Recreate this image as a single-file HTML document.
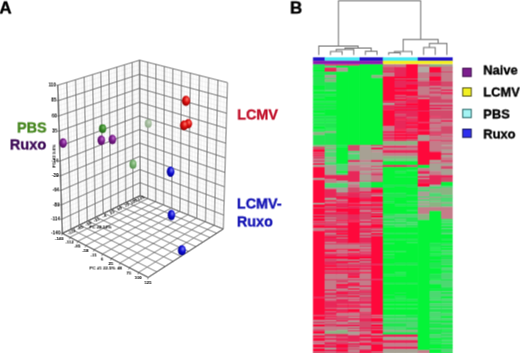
<!DOCTYPE html>
<html><head><meta charset="utf-8"><style>
html,body{margin:0;padding:0;background:#fff;}
body{width:520px;height:353px;overflow:hidden;position:relative;font-family:"Liberation Sans",sans-serif;}
svg{position:absolute;left:0;top:0;will-change:transform;}
</style></head><body>
<svg width="520" height="353" viewBox="0.45 0.45 520 353" font-family="Liberation Sans, sans-serif"><defs><radialGradient id="g_purple" cx="0.62" cy="0.38" r="0.7" fx="0.62" fy="0.35"><stop offset="0" stop-color="#c070d0"/><stop offset="0.45" stop-color="#7a1f8a"/><stop offset="1" stop-color="#4a0a5a"/></radialGradient><radialGradient id="g_green" cx="0.62" cy="0.38" r="0.7" fx="0.62" fy="0.35"><stop offset="0" stop-color="#80c070"/><stop offset="0.45" stop-color="#3a8a2a"/><stop offset="1" stop-color="#1f5a15"/></radialGradient><radialGradient id="g_green2" cx="0.62" cy="0.38" r="0.7" fx="0.62" fy="0.35"><stop offset="0" stop-color="#b0d8a8"/><stop offset="0.45" stop-color="#78b070"/><stop offset="1" stop-color="#508a48"/></radialGradient><radialGradient id="g_pale" cx="0.62" cy="0.38" r="0.7" fx="0.62" fy="0.35"><stop offset="0" stop-color="#cfdccb"/><stop offset="0.45" stop-color="#a6bea0"/><stop offset="1" stop-color="#8ca486"/></radialGradient><radialGradient id="g_red" cx="0.62" cy="0.38" r="0.7" fx="0.62" fy="0.35"><stop offset="0" stop-color="#ff7a6a"/><stop offset="0.45" stop-color="#dc1010"/><stop offset="1" stop-color="#820000"/></radialGradient><radialGradient id="g_blue" cx="0.62" cy="0.38" r="0.7" fx="0.62" fy="0.35"><stop offset="0" stop-color="#8080ff"/><stop offset="0.45" stop-color="#1010d0"/><stop offset="1" stop-color="#000080"/></radialGradient><g id="c"><rect x="-2" y="-2" width="524" height="357" fill="#fff"/><path d="M60.81 84.28L65.15 232.01M63.80 83.37L67.99 230.64M69.72 81.56L73.60 227.92M72.64 80.66L76.38 226.57M78.43 78.89L81.88 223.90M81.30 78.02L84.60 222.58M86.97 76.29L89.99 219.96M89.77 75.43L92.66 218.67M95.32 73.73L97.95 216.10M98.07 72.89L100.56 214.83M103.51 71.23L105.74 212.32M106.20 70.41L108.31 211.08M111.53 68.78L113.39 208.61M114.17 67.97L115.90 207.39M119.39 66.38L120.89 204.97M121.98 65.59L123.36 203.77M127.10 64.02L128.24 201.40M129.63 63.25L130.67 200.23M134.65 61.71L135.46 197.90M137.13 60.95L137.84 196.75M57.96 90.37L139.62 64.91M58.11 95.53L139.64 69.60M58.43 105.80L139.68 78.94M58.58 110.91L139.70 83.60M58.89 121.07L139.74 92.86M59.04 126.13L139.77 97.47M59.35 136.20L139.81 106.65M59.50 141.20L139.83 111.22M59.80 151.17L139.87 120.32M59.95 156.14L139.89 124.85M60.25 166.01L139.93 133.88M60.40 170.92L139.95 138.37M60.70 180.70L139.99 147.31M60.85 185.57L140.01 151.76M61.14 195.26L140.05 160.63M61.29 200.08L140.06 165.05M61.58 209.67L140.10 173.84M61.72 214.45L140.12 178.22M62.01 223.95L140.16 186.93M62.16 228.68L140.18 191.27" stroke="#e8e8e8" stroke-width="0.55" fill="none"/><path d="M57.80 85.20L62.30 233.40M66.77 82.46L70.81 229.27M75.55 79.78L79.14 225.23M84.14 77.15L87.31 221.27M92.56 74.58L95.31 217.38M100.80 72.06L103.16 213.57M108.88 69.59L110.86 209.84M116.79 67.17L118.40 206.18M124.54 64.80L125.81 202.58M132.15 62.48L133.07 199.06M139.60 60.20L140.20 195.60M57.80 85.20L139.60 60.20M58.27 100.67L139.66 74.28M58.74 116.00L139.72 88.23M59.20 131.17L139.79 102.07M59.65 146.20L139.85 115.78M60.10 161.08L139.91 129.37M60.55 175.82L139.97 142.85M60.99 190.42L140.03 156.20M61.43 204.88L140.08 169.45M61.87 219.21L140.14 182.58M62.30 233.40L140.20 195.60" stroke="#6a6a6a" stroke-width="0.9" fill="none"/><path d="M142.28 60.88L142.75 196.62M144.98 61.57L145.31 197.65M150.42 62.96L150.48 199.73M153.17 63.66L153.08 200.78M158.71 65.07L158.33 202.89M161.50 65.78L160.98 203.95M167.14 67.22L166.33 206.10M169.99 67.94L169.02 207.18M175.73 69.41L174.46 209.37M178.63 70.15L177.20 210.47M184.48 71.64L182.73 212.69M187.43 72.39L185.52 213.81M193.38 73.91L191.14 216.07M196.39 74.67L193.98 217.22M202.46 76.22L199.71 219.52M205.52 77.00L202.59 220.68M211.70 78.57L208.42 223.02M214.82 79.37L211.36 224.20M221.12 80.97L217.30 226.59M224.30 81.78L220.29 227.79M139.62 64.95L227.35 87.76M139.64 69.67L227.20 92.89M139.68 79.08L226.91 103.10M139.70 83.76L226.77 108.18M139.75 93.07L226.48 118.27M139.77 97.70L226.33 123.29M139.81 106.91L226.05 133.27M139.83 111.49L225.90 138.23M139.87 120.61L225.62 148.09M139.89 125.14L225.48 152.99M139.93 134.16L225.20 162.75M139.95 138.65L225.06 167.59M139.99 147.58L224.79 177.24M140.01 152.02L224.65 182.03M140.05 160.85L224.37 191.56M140.07 165.25L224.24 196.31M140.10 173.99L223.97 205.73M140.12 178.34L223.83 210.42M140.16 187.00L223.57 219.74M140.18 191.31L223.43 224.38" stroke="#e8e8e8" stroke-width="0.55" fill="none"/><path d="M139.60 60.20L140.20 195.60M147.69 62.26L147.88 198.69M155.93 64.36L155.70 201.83M164.32 66.50L163.65 205.02M172.85 68.67L171.73 208.27M181.54 70.89L179.95 211.58M190.40 73.14L188.32 214.94M199.41 75.44L196.83 218.36M208.60 77.78L205.50 221.85M217.96 80.17L214.32 225.39M227.50 82.60L223.30 229.00M139.60 60.20L227.50 82.60M139.66 74.39L227.06 98.01M139.73 88.42L226.62 113.23M139.79 102.31L226.19 128.29M139.85 116.06L225.76 143.17M139.91 129.66L225.34 157.88M139.97 143.12L224.92 172.42M140.03 156.44L224.51 186.81M140.08 169.63L224.10 201.03M140.14 182.68L223.70 215.09M140.20 195.60L223.30 229.00" stroke="#6a6a6a" stroke-width="0.9" fill="none"/><path d="M140.20 195.60L62.30 233.40M147.71 198.62L69.95 237.32M155.39 201.70L77.78 241.33M163.23 204.86L85.81 245.44M171.24 208.08L94.05 249.66M179.44 211.37L102.49 253.99M187.81 214.74L111.16 258.43M196.38 218.18L120.05 262.98M205.15 221.70L129.19 267.66M214.12 225.31L138.56 272.46M223.30 229.00L148.20 277.40M140.20 195.60L223.30 229.00M133.30 198.95L216.75 233.22M126.22 202.39L210.01 237.57M118.95 205.91L203.07 242.04M111.50 209.53L195.92 246.64M103.84 213.24L188.57 251.38M95.98 217.06L180.99 256.27M87.91 220.97L173.17 261.31M79.61 225.00L165.11 266.50M71.08 229.14L156.79 271.86M62.30 233.40L148.20 277.40" stroke="#6c6c6c" stroke-width="0.85" fill="none"/><path d="M57.80 85.20L62.30 233.40" stroke="#555" stroke-width="1"/><path d="M62.30 233.40L148.20 277.40" stroke="#555" stroke-width="1"/><path d="M148.20 277.40L223.30 229.00" stroke="#555" stroke-width="1"/><path d="M62.30 233.40L140.20 195.60" stroke="#555" stroke-width="1"/><ellipse cx="63.1" cy="143.1" rx="3.8" ry="4.8" fill="url(#g_purple)"/><ellipse cx="101.3" cy="140.3" rx="3.8" ry="4.8" fill="url(#g_purple)"/><ellipse cx="112.4" cy="139.5" rx="3.8" ry="4.8" fill="url(#g_purple)"/><ellipse cx="102.6" cy="128.7" rx="3.6" ry="4.4" fill="url(#g_green)"/><ellipse cx="148.3" cy="123.5" rx="3.5" ry="4.3" fill="url(#g_pale)"/><ellipse cx="133.0" cy="164.2" rx="3.5" ry="4.6" fill="url(#g_green2)"/><ellipse cx="186.0" cy="100.9" rx="4.1" ry="5.1" fill="url(#g_red)"/><ellipse cx="188.3" cy="123.7" rx="3.8" ry="4.7" fill="url(#g_red)"/><ellipse cx="184.0" cy="125.4" rx="4.0" ry="4.9" fill="url(#g_red)"/><ellipse cx="170.6" cy="171.7" rx="3.8" ry="5.2" fill="url(#g_blue)"/><ellipse cx="171.4" cy="215.0" rx="3.7" ry="5.2" fill="url(#g_blue)"/><ellipse cx="181.9" cy="250.3" rx="4.0" ry="5.1" fill="url(#g_blue)"/><g font-family="Liberation Sans, sans-serif" font-weight="bold"><text x="56.00" y="86.40" font-size="4.7" text-anchor="end" fill="#000000">110</text><path d="M56.30 85.20H57.80" stroke="#444" stroke-width="0.6"/><text x="56.47" y="101.87" font-size="4.7" text-anchor="end" fill="#000000">85</text><path d="M56.77 100.67H58.27" stroke="#444" stroke-width="0.6"/><text x="56.94" y="117.20" font-size="4.7" text-anchor="end" fill="#000000">60</text><path d="M57.24 116.00H58.74" stroke="#444" stroke-width="0.6"/><text x="57.40" y="132.37" font-size="4.7" text-anchor="end" fill="#000000">35</text><path d="M57.70 131.17H59.20" stroke="#444" stroke-width="0.6"/><text x="58.30" y="162.28" font-size="4.7" text-anchor="end" fill="#000000">-14</text><path d="M58.60 161.08H60.10" stroke="#444" stroke-width="0.6"/><text x="58.75" y="177.02" font-size="4.7" text-anchor="end" fill="#000000">-39</text><path d="M59.05 175.82H60.55" stroke="#444" stroke-width="0.6"/><text x="59.19" y="191.62" font-size="4.7" text-anchor="end" fill="#000000">-64</text><path d="M59.49 190.42H60.99" stroke="#444" stroke-width="0.6"/><text x="59.63" y="206.08" font-size="4.7" text-anchor="end" fill="#000000">-89</text><path d="M59.93 204.88H61.43" stroke="#444" stroke-width="0.6"/><text x="60.07" y="220.41" font-size="4.7" text-anchor="end" fill="#000000">-114</text><path d="M60.37 219.21H61.87" stroke="#444" stroke-width="0.6"/><text x="60.50" y="234.60" font-size="4.7" text-anchor="end" fill="#000000">-140</text><path d="M60.80 233.40H62.30" stroke="#444" stroke-width="0.6"/><text x="55.80" y="156.00" font-size="4.4" text-anchor="middle" fill="#000000" transform="rotate(-90 55.80 156.00)">PC #3 9.6%</text><text x="59.30" y="240.00" font-size="4.3" text-anchor="middle" fill="#000000">-140</text><path d="M62.30 233.40l-0.6 2" stroke="#444" stroke-width="0.6"/><text x="69.55" y="243.92" font-size="4.3" text-anchor="middle" fill="#000000">-112</text><path d="M69.95 237.32l-0.6 2" stroke="#444" stroke-width="0.6"/><text x="77.38" y="247.93" font-size="4.3" text-anchor="middle" fill="#000000">-85</text><path d="M77.78 241.33l-0.6 2" stroke="#444" stroke-width="0.6"/><text x="85.41" y="252.04" font-size="4.3" text-anchor="middle" fill="#000000">-58</text><path d="M85.81 245.44l-0.6 2" stroke="#444" stroke-width="0.6"/><text x="93.65" y="256.26" font-size="4.3" text-anchor="middle" fill="#000000">-31</text><path d="M94.05 249.66l-0.6 2" stroke="#444" stroke-width="0.6"/><text x="102.09" y="260.59" font-size="4.3" text-anchor="middle" fill="#000000">6</text><path d="M102.49 253.99l-0.6 2" stroke="#444" stroke-width="0.6"/><text x="110.76" y="265.03" font-size="4.3" text-anchor="middle" fill="#000000">25</text><path d="M111.16 258.43l-0.6 2" stroke="#444" stroke-width="0.6"/><text x="119.65" y="269.58" font-size="4.3" text-anchor="middle" fill="#000000">48</text><path d="M120.05 262.98l-0.6 2" stroke="#444" stroke-width="0.6"/><text x="128.79" y="274.26" font-size="4.3" text-anchor="middle" fill="#000000">75</text><path d="M129.19 267.66l-0.6 2" stroke="#444" stroke-width="0.6"/><text x="138.16" y="279.06" font-size="4.3" text-anchor="middle" fill="#000000">100</text><path d="M138.56 272.46l-0.6 2" stroke="#444" stroke-width="0.6"/><text x="147.80" y="284.00" font-size="4.3" text-anchor="middle" fill="#000000">125</text><path d="M148.20 277.40l-0.6 2" stroke="#444" stroke-width="0.6"/><text x="102.50" y="269.60" font-size="4.4" text-anchor="middle" fill="#000000">PC #1 22.5%</text><text x="72.28" y="233.04" font-size="4.3" text-anchor="middle" fill="#000000" transform="rotate(-25.884399866876482 72.28 233.04)">-112</text><text x="80.81" y="228.90" font-size="4.3" text-anchor="middle" fill="#000000" transform="rotate(-25.884399866876482 80.81 228.90)">-85</text><text x="89.11" y="224.87" font-size="4.3" text-anchor="middle" fill="#000000" transform="rotate(-25.884399866876482 89.11 224.87)">-58</text><text x="97.18" y="220.96" font-size="4.3" text-anchor="middle" fill="#000000" transform="rotate(-25.884399866876482 97.18 220.96)">-31</text><text x="105.04" y="217.14" font-size="4.3" text-anchor="middle" fill="#000000" transform="rotate(-25.884399866876482 105.04 217.14)">-4</text><text x="112.70" y="213.43" font-size="4.3" text-anchor="middle" fill="#000000" transform="rotate(-25.884399866876482 112.70 213.43)">23</text><text x="120.15" y="209.81" font-size="4.3" text-anchor="middle" fill="#000000" transform="rotate(-25.884399866876482 120.15 209.81)">50</text><text x="127.42" y="206.29" font-size="4.3" text-anchor="middle" fill="#000000" transform="rotate(-25.884399866876482 127.42 206.29)">75</text><text x="134.50" y="202.85" font-size="4.3" text-anchor="middle" fill="#000000" transform="rotate(-25.884399866876482 134.50 202.85)">100</text><text x="141.40" y="199.50" font-size="4.3" text-anchor="middle" fill="#000000" transform="rotate(-25.884399866876482 141.40 199.50)">125</text><text x="100.50" y="228.30" font-size="4.4" text-anchor="middle" fill="#000000">PC #2 12%</text></g><rect x="313.00" y="64.00" width="12.24" height="3.80" fill="#22e652"/><rect x="313.00" y="67.50" width="12.24" height="1.30" fill="#06f43a"/><rect x="313.00" y="68.50" width="12.24" height="1.30" fill="#22e652"/><rect x="313.00" y="69.50" width="12.24" height="2.30" fill="#06f43a"/><rect x="313.00" y="71.50" width="12.24" height="4.30" fill="#22e652"/><rect x="313.00" y="75.50" width="12.24" height="1.30" fill="#06f43a"/><rect x="313.00" y="76.50" width="12.24" height="9.30" fill="#22e652"/><rect x="313.00" y="85.50" width="12.24" height="4.80" fill="#06f43a"/><rect x="313.00" y="90.00" width="12.24" height="1.30" fill="#22e652"/><rect x="313.00" y="91.00" width="12.24" height="3.30" fill="#06f43a"/><rect x="313.00" y="94.00" width="12.24" height="4.30" fill="#22e652"/><rect x="313.00" y="98.00" width="12.24" height="3.30" fill="#06f43a"/><rect x="313.00" y="101.00" width="12.24" height="2.30" fill="#22e652"/><rect x="313.00" y="103.00" width="12.24" height="1.80" fill="#06f43a"/><rect x="313.00" y="104.50" width="12.24" height="2.30" fill="#22e652"/><rect x="313.00" y="106.50" width="12.24" height="1.30" fill="#06f43a"/><rect x="313.00" y="107.50" width="12.24" height="3.30" fill="#22e652"/><rect x="313.00" y="110.50" width="12.24" height="2.80" fill="#06f43a"/><rect x="313.00" y="113.00" width="12.24" height="1.30" fill="#22e652"/><rect x="313.00" y="114.00" width="12.24" height="2.30" fill="#06f43a"/><rect x="313.00" y="116.00" width="12.24" height="3.30" fill="#22e652"/><rect x="313.00" y="119.00" width="12.24" height="1.30" fill="#06f43a"/><rect x="313.00" y="120.00" width="12.24" height="2.30" fill="#22e652"/><rect x="313.00" y="122.00" width="12.24" height="1.30" fill="#06f43a"/><rect x="313.00" y="123.00" width="12.24" height="3.30" fill="#22e652"/><rect x="313.00" y="126.00" width="12.24" height="3.30" fill="#06f43a"/><rect x="313.00" y="129.00" width="12.24" height="1.30" fill="#22e652"/><rect x="313.00" y="130.00" width="12.24" height="1.30" fill="#06f43a"/><rect x="313.00" y="131.00" width="12.24" height="1.30" fill="#22e652"/><rect x="313.00" y="132.00" width="12.24" height="3.30" fill="#8cb484"/><rect x="313.00" y="135.00" width="12.24" height="10.30" fill="#22e652"/><rect x="313.00" y="145.00" width="12.24" height="2.30" fill="#8cb484"/><rect x="313.00" y="147.00" width="12.24" height="0.80" fill="#fe0a3c"/><rect x="313.00" y="147.50" width="12.24" height="2.30" fill="#d44a6c"/><rect x="313.00" y="149.50" width="12.24" height="2.80" fill="#fe0a3c"/><rect x="313.00" y="152.00" width="12.24" height="1.30" fill="#d44a6c"/><rect x="313.00" y="153.00" width="12.24" height="1.30" fill="#fe0a3c"/><rect x="313.00" y="154.00" width="12.24" height="1.30" fill="#d44a6c"/><rect x="313.00" y="155.00" width="12.24" height="1.30" fill="#fe0a3c"/><rect x="313.00" y="156.00" width="12.24" height="3.30" fill="#d44a6c"/><rect x="313.00" y="159.00" width="12.24" height="1.30" fill="#c47c8a"/><rect x="313.00" y="160.00" width="12.24" height="2.30" fill="#d44a6c"/><rect x="313.00" y="162.00" width="12.24" height="1.80" fill="#c47c8a"/><rect x="313.00" y="163.50" width="12.24" height="1.30" fill="#fe0a3c"/><rect x="313.00" y="164.50" width="12.24" height="0.80" fill="#d44a6c"/><rect x="313.00" y="165.00" width="12.24" height="2.30" fill="#a8a294"/><rect x="313.00" y="167.00" width="12.24" height="11.30" fill="#fe0a3c"/><rect x="313.00" y="178.00" width="12.24" height="2.30" fill="#a8a294"/><rect x="313.00" y="180.00" width="12.24" height="23.30" fill="#fe0a3c"/><rect x="313.00" y="203.00" width="12.24" height="1.80" fill="#a8a294"/><rect x="313.00" y="204.50" width="12.24" height="3.30" fill="#fe0a3c"/><rect x="313.00" y="207.50" width="12.24" height="1.30" fill="#d44a6c"/><rect x="313.00" y="208.50" width="12.24" height="6.30" fill="#fe0a3c"/><rect x="313.00" y="214.50" width="12.24" height="1.30" fill="#d44a6c"/><rect x="313.00" y="215.50" width="12.24" height="2.30" fill="#fe0a3c"/><rect x="313.00" y="217.50" width="12.24" height="1.30" fill="#d44a6c"/><rect x="313.00" y="218.50" width="12.24" height="2.80" fill="#fe0a3c"/><rect x="313.00" y="221.00" width="12.24" height="1.30" fill="#d44a6c"/><rect x="313.00" y="222.00" width="12.24" height="1.30" fill="#fe0a3c"/><rect x="313.00" y="223.00" width="12.24" height="2.30" fill="#d44a6c"/><rect x="313.00" y="225.00" width="12.24" height="3.30" fill="#fe0a3c"/><rect x="313.00" y="228.00" width="12.24" height="3.30" fill="#c47c8a"/><rect x="313.00" y="231.00" width="12.24" height="65.80" fill="#fe0a3c"/><rect x="313.00" y="296.50" width="12.24" height="1.80" fill="#e8285a"/><rect x="313.00" y="298.00" width="12.24" height="17.30" fill="#fe0a3c"/><rect x="313.00" y="315.00" width="12.24" height="1.30" fill="#d44a6c"/><rect x="313.00" y="316.00" width="12.24" height="4.30" fill="#fe0a3c"/><rect x="313.00" y="320.00" width="12.24" height="1.80" fill="#c47c8a"/><rect x="313.00" y="321.50" width="12.24" height="2.30" fill="#d44a6c"/><rect x="313.00" y="323.50" width="12.24" height="1.30" fill="#c47c8a"/><rect x="313.00" y="324.50" width="12.24" height="2.30" fill="#fe0a3c"/><rect x="313.00" y="326.50" width="12.24" height="2.80" fill="#c47c8a"/><rect x="313.00" y="329.00" width="12.24" height="2.30" fill="#d44a6c"/><rect x="313.00" y="331.00" width="12.24" height="2.80" fill="#fe0a3c"/><rect x="313.00" y="333.50" width="12.24" height="2.30" fill="#c47c8a"/><rect x="313.00" y="335.50" width="12.24" height="1.80" fill="#fe0a3c"/><rect x="313.00" y="337.00" width="12.24" height="1.30" fill="#d44a6c"/><rect x="313.00" y="338.00" width="12.24" height="3.30" fill="#fe0a3c"/><rect x="313.00" y="341.00" width="12.24" height="1.30" fill="#c47c8a"/><rect x="313.00" y="342.00" width="12.24" height="1.30" fill="#d44a6c"/><rect x="313.00" y="343.00" width="12.24" height="1.80" fill="#c47c8a"/><rect x="313.00" y="344.50" width="12.24" height="3.30" fill="#fe0a3c"/><rect x="313.00" y="347.50" width="12.24" height="1.30" fill="#c47c8a"/><rect x="313.00" y="348.50" width="12.24" height="3.30" fill="#fe0a3c"/><rect x="313.00" y="351.50" width="12.24" height="1.30" fill="#c47c8a"/><rect x="313.00" y="352.50" width="12.24" height="0.80" fill="#fe0a3c"/><rect x="324.64" y="64.00" width="12.24" height="2.00" fill="#d44a6c"/><rect x="324.64" y="65.70" width="12.24" height="2.30" fill="#4cd872"/><rect x="324.64" y="67.70" width="12.24" height="4.30" fill="#e8285a"/><rect x="324.64" y="71.70" width="12.24" height="3.60" fill="#22e652"/><rect x="324.64" y="75.00" width="12.24" height="3.30" fill="#a8a294"/><rect x="324.64" y="78.00" width="12.24" height="1.30" fill="#22e652"/><rect x="324.64" y="79.00" width="12.24" height="3.30" fill="#8cb484"/><rect x="324.64" y="82.00" width="12.24" height="8.30" fill="#22e652"/><rect x="324.64" y="90.00" width="12.24" height="1.80" fill="#4cd872"/><rect x="324.64" y="91.50" width="12.24" height="2.80" fill="#06f43a"/><rect x="324.64" y="94.00" width="12.24" height="2.30" fill="#22e652"/><rect x="324.64" y="96.00" width="12.24" height="5.30" fill="#06f43a"/><rect x="324.64" y="101.00" width="12.24" height="2.30" fill="#22e652"/><rect x="324.64" y="103.00" width="12.24" height="1.80" fill="#06f43a"/><rect x="324.64" y="104.50" width="12.24" height="2.30" fill="#22e652"/><rect x="324.64" y="106.50" width="12.24" height="1.30" fill="#06f43a"/><rect x="324.64" y="107.50" width="12.24" height="2.30" fill="#22e652"/><rect x="324.64" y="109.50" width="12.24" height="6.80" fill="#06f43a"/><rect x="324.64" y="116.00" width="12.24" height="3.30" fill="#22e652"/><rect x="324.64" y="119.00" width="12.24" height="1.30" fill="#06f43a"/><rect x="324.64" y="120.00" width="12.24" height="2.30" fill="#22e652"/><rect x="324.64" y="122.00" width="12.24" height="1.30" fill="#06f43a"/><rect x="324.64" y="123.00" width="12.24" height="5.30" fill="#22e652"/><rect x="324.64" y="128.00" width="12.24" height="1.30" fill="#06f43a"/><rect x="324.64" y="129.00" width="12.24" height="1.30" fill="#22e652"/><rect x="324.64" y="130.00" width="12.24" height="1.30" fill="#06f43a"/><rect x="324.64" y="131.00" width="12.24" height="2.30" fill="#8cb484"/><rect x="324.64" y="133.00" width="12.24" height="12.30" fill="#22e652"/><rect x="324.64" y="145.00" width="12.24" height="2.30" fill="#8cb484"/><rect x="324.64" y="147.00" width="12.24" height="0.80" fill="#4cd872"/><rect x="324.64" y="147.50" width="12.24" height="2.30" fill="#8cb484"/><rect x="324.64" y="149.50" width="12.24" height="1.80" fill="#4cd872"/><rect x="324.64" y="151.00" width="12.24" height="1.30" fill="#8cb484"/><rect x="324.64" y="152.00" width="12.24" height="5.30" fill="#4cd872"/><rect x="324.64" y="157.00" width="12.24" height="2.30" fill="#8cb484"/><rect x="324.64" y="159.00" width="12.24" height="1.30" fill="#4cd872"/><rect x="324.64" y="160.00" width="12.24" height="2.30" fill="#8cb484"/><rect x="324.64" y="162.00" width="12.24" height="3.30" fill="#4cd872"/><rect x="324.64" y="165.00" width="12.24" height="10.30" fill="#a8a294"/><rect x="324.64" y="175.00" width="12.24" height="4.30" fill="#e8285a"/><rect x="324.64" y="179.00" width="12.24" height="4.30" fill="#c47c8a"/><rect x="324.64" y="183.00" width="12.24" height="4.80" fill="#4cd872"/><rect x="324.64" y="187.50" width="12.24" height="1.80" fill="#a8a294"/><rect x="324.64" y="189.00" width="12.24" height="9.30" fill="#e8285a"/><rect x="324.64" y="198.00" width="12.24" height="2.30" fill="#a8a294"/><rect x="324.64" y="200.00" width="12.24" height="1.30" fill="#fe0a3c"/><rect x="324.64" y="201.00" width="12.24" height="1.30" fill="#e8285a"/><rect x="324.64" y="202.00" width="12.24" height="1.30" fill="#c47c8a"/><rect x="324.64" y="203.00" width="12.24" height="1.30" fill="#d44a6c"/><rect x="324.64" y="204.00" width="12.24" height="2.30" fill="#fe0a3c"/><rect x="324.64" y="206.00" width="12.24" height="2.80" fill="#d44a6c"/><rect x="324.64" y="208.50" width="12.24" height="1.80" fill="#e8285a"/><rect x="324.64" y="210.00" width="12.24" height="1.30" fill="#fe0a3c"/><rect x="324.64" y="211.00" width="12.24" height="1.30" fill="#c47c8a"/><rect x="324.64" y="212.00" width="12.24" height="2.80" fill="#e8285a"/><rect x="324.64" y="214.50" width="12.24" height="3.30" fill="#d44a6c"/><rect x="324.64" y="217.50" width="12.24" height="1.30" fill="#c47c8a"/><rect x="324.64" y="218.50" width="12.24" height="1.80" fill="#d44a6c"/><rect x="324.64" y="220.00" width="12.24" height="1.30" fill="#c47c8a"/><rect x="324.64" y="221.00" width="12.24" height="1.30" fill="#d44a6c"/><rect x="324.64" y="222.00" width="12.24" height="1.30" fill="#e8285a"/><rect x="324.64" y="223.00" width="12.24" height="2.30" fill="#d44a6c"/><rect x="324.64" y="225.00" width="12.24" height="1.80" fill="#e8285a"/><rect x="324.64" y="226.50" width="12.24" height="1.80" fill="#fe0a3c"/><rect x="324.64" y="228.00" width="12.24" height="1.80" fill="#c47c8a"/><rect x="324.64" y="229.50" width="12.24" height="1.30" fill="#d44a6c"/><rect x="324.64" y="230.50" width="12.24" height="2.80" fill="#e8285a"/><rect x="324.64" y="233.00" width="12.24" height="1.80" fill="#c47c8a"/><rect x="324.64" y="234.50" width="12.24" height="2.30" fill="#d44a6c"/><rect x="324.64" y="236.50" width="12.24" height="1.30" fill="#fe0a3c"/><rect x="324.64" y="237.50" width="12.24" height="4.80" fill="#e8285a"/><rect x="324.64" y="242.00" width="12.24" height="1.30" fill="#c47c8a"/><rect x="324.64" y="243.00" width="12.24" height="1.80" fill="#d44a6c"/><rect x="324.64" y="244.50" width="12.24" height="4.80" fill="#c47c8a"/><rect x="324.64" y="249.00" width="12.24" height="1.30" fill="#e8285a"/><rect x="324.64" y="250.00" width="12.24" height="2.30" fill="#fe0a3c"/><rect x="324.64" y="252.00" width="12.24" height="1.30" fill="#c47c8a"/><rect x="324.64" y="253.00" width="12.24" height="1.30" fill="#d44a6c"/><rect x="324.64" y="254.00" width="12.24" height="2.80" fill="#e8285a"/><rect x="324.64" y="256.50" width="12.24" height="2.30" fill="#fe0a3c"/><rect x="324.64" y="258.50" width="12.24" height="3.30" fill="#d44a6c"/><rect x="324.64" y="261.50" width="12.24" height="3.80" fill="#e8285a"/><rect x="324.64" y="265.00" width="12.24" height="2.30" fill="#fe0a3c"/><rect x="324.64" y="267.00" width="12.24" height="1.30" fill="#d44a6c"/><rect x="324.64" y="268.00" width="12.24" height="2.30" fill="#fe0a3c"/><rect x="324.64" y="270.00" width="12.24" height="2.30" fill="#d44a6c"/><rect x="324.64" y="272.00" width="12.24" height="2.30" fill="#e8285a"/><rect x="324.64" y="274.00" width="12.24" height="5.30" fill="#c47c8a"/><rect x="324.64" y="279.00" width="12.24" height="1.80" fill="#d44a6c"/><rect x="324.64" y="280.50" width="12.24" height="9.30" fill="#c47c8a"/><rect x="324.64" y="289.50" width="12.24" height="1.80" fill="#e8285a"/><rect x="324.64" y="291.00" width="12.24" height="1.80" fill="#c47c8a"/><rect x="324.64" y="292.50" width="12.24" height="1.30" fill="#d44a6c"/><rect x="324.64" y="293.50" width="12.24" height="1.30" fill="#e8285a"/><rect x="324.64" y="294.50" width="12.24" height="1.30" fill="#d44a6c"/><rect x="324.64" y="295.50" width="12.24" height="1.30" fill="#c47c8a"/><rect x="324.64" y="296.50" width="12.24" height="2.80" fill="#d44a6c"/><rect x="324.64" y="299.00" width="12.24" height="1.30" fill="#c47c8a"/><rect x="324.64" y="300.00" width="12.24" height="1.30" fill="#d44a6c"/><rect x="324.64" y="301.00" width="12.24" height="7.30" fill="#e8285a"/><rect x="324.64" y="308.00" width="12.24" height="1.30" fill="#d44a6c"/><rect x="324.64" y="309.00" width="12.24" height="2.30" fill="#fe0a3c"/><rect x="324.64" y="311.00" width="12.24" height="1.30" fill="#d44a6c"/><rect x="324.64" y="312.00" width="12.24" height="3.30" fill="#e8285a"/><rect x="324.64" y="315.00" width="12.24" height="1.30" fill="#d44a6c"/><rect x="324.64" y="316.00" width="12.24" height="1.30" fill="#fe0a3c"/><rect x="324.64" y="317.00" width="12.24" height="1.30" fill="#d44a6c"/><rect x="324.64" y="318.00" width="12.24" height="2.30" fill="#e8285a"/><rect x="324.64" y="320.00" width="12.24" height="1.80" fill="#c47c8a"/><rect x="324.64" y="321.50" width="12.24" height="1.30" fill="#d44a6c"/><rect x="324.64" y="322.50" width="12.24" height="1.30" fill="#c47c8a"/><rect x="324.64" y="323.50" width="12.24" height="3.30" fill="#d44a6c"/><rect x="324.64" y="326.50" width="12.24" height="4.80" fill="#c47c8a"/><rect x="324.64" y="331.00" width="12.24" height="3.30" fill="#8cb484"/><rect x="324.64" y="334.00" width="12.24" height="1.80" fill="#e8285a"/><rect x="324.64" y="335.50" width="12.24" height="1.80" fill="#d44a6c"/><rect x="324.64" y="337.00" width="12.24" height="1.30" fill="#c47c8a"/><rect x="324.64" y="338.00" width="12.24" height="2.30" fill="#e8285a"/><rect x="324.64" y="340.00" width="12.24" height="2.30" fill="#c47c8a"/><rect x="324.64" y="342.00" width="12.24" height="2.80" fill="#e8285a"/><rect x="324.64" y="344.50" width="12.24" height="1.30" fill="#d44a6c"/><rect x="324.64" y="345.50" width="12.24" height="2.30" fill="#e8285a"/><rect x="324.64" y="347.50" width="12.24" height="1.30" fill="#c47c8a"/><rect x="324.64" y="348.50" width="12.24" height="1.30" fill="#a8a294"/><rect x="324.64" y="349.50" width="12.24" height="2.30" fill="#e8285a"/><rect x="324.64" y="351.50" width="12.24" height="1.30" fill="#c47c8a"/><rect x="324.64" y="352.50" width="12.24" height="0.80" fill="#e8285a"/><rect x="336.28" y="64.00" width="12.24" height="2.00" fill="#d44a6c"/><rect x="336.28" y="65.70" width="12.24" height="2.30" fill="#06f43a"/><rect x="336.28" y="67.70" width="12.24" height="4.30" fill="#a8a294"/><rect x="336.28" y="71.70" width="12.24" height="73.60" fill="#06f43a"/><rect x="336.28" y="145.00" width="12.24" height="2.30" fill="#22e652"/><rect x="336.28" y="147.00" width="12.24" height="17.30" fill="#06f43a"/><rect x="336.28" y="164.00" width="12.24" height="7.30" fill="#4cd872"/><rect x="336.28" y="171.00" width="12.24" height="2.30" fill="#06f43a"/><rect x="336.28" y="173.00" width="12.24" height="2.30" fill="#4cd872"/><rect x="336.28" y="175.00" width="12.24" height="5.80" fill="#e8285a"/><rect x="336.28" y="180.50" width="12.24" height="2.80" fill="#a8a294"/><rect x="336.28" y="183.00" width="12.24" height="4.80" fill="#4cd872"/><rect x="336.28" y="187.50" width="12.24" height="5.30" fill="#a8a294"/><rect x="336.28" y="192.50" width="12.24" height="0.80" fill="#e8285a"/><rect x="336.28" y="193.00" width="12.24" height="3.80" fill="#d44a6c"/><rect x="336.28" y="196.50" width="12.24" height="1.30" fill="#fe0a3c"/><rect x="336.28" y="197.50" width="12.24" height="2.30" fill="#e8285a"/><rect x="336.28" y="199.50" width="12.24" height="1.80" fill="#c47c8a"/><rect x="336.28" y="201.00" width="12.24" height="1.30" fill="#e8285a"/><rect x="336.28" y="202.00" width="12.24" height="1.30" fill="#d44a6c"/><rect x="336.28" y="203.00" width="12.24" height="4.80" fill="#e8285a"/><rect x="336.28" y="207.50" width="12.24" height="1.30" fill="#d44a6c"/><rect x="336.28" y="208.50" width="12.24" height="3.80" fill="#fe0a3c"/><rect x="336.28" y="212.00" width="12.24" height="2.80" fill="#e8285a"/><rect x="336.28" y="214.50" width="12.24" height="5.80" fill="#d44a6c"/><rect x="336.28" y="220.00" width="12.24" height="1.30" fill="#fe0a3c"/><rect x="336.28" y="221.00" width="12.24" height="1.30" fill="#d44a6c"/><rect x="336.28" y="222.00" width="12.24" height="1.30" fill="#e8285a"/><rect x="336.28" y="223.00" width="12.24" height="1.30" fill="#d44a6c"/><rect x="336.28" y="224.00" width="12.24" height="1.30" fill="#c47c8a"/><rect x="336.28" y="225.00" width="12.24" height="1.80" fill="#e8285a"/><rect x="336.28" y="226.50" width="12.24" height="1.80" fill="#fe0a3c"/><rect x="336.28" y="228.00" width="12.24" height="2.80" fill="#d44a6c"/><rect x="336.28" y="230.50" width="12.24" height="1.30" fill="#fe0a3c"/><rect x="336.28" y="231.50" width="12.24" height="1.80" fill="#e8285a"/><rect x="336.28" y="233.00" width="12.24" height="1.80" fill="#fe0a3c"/><rect x="336.28" y="234.50" width="12.24" height="2.30" fill="#d44a6c"/><rect x="336.28" y="236.50" width="12.24" height="1.30" fill="#fe0a3c"/><rect x="336.28" y="237.50" width="12.24" height="1.30" fill="#c47c8a"/><rect x="336.28" y="238.50" width="12.24" height="4.80" fill="#e8285a"/><rect x="336.28" y="243.00" width="12.24" height="1.80" fill="#d44a6c"/><rect x="336.28" y="244.50" width="12.24" height="4.80" fill="#c47c8a"/><rect x="336.28" y="249.00" width="12.24" height="1.30" fill="#fe0a3c"/><rect x="336.28" y="250.00" width="12.24" height="1.30" fill="#c47c8a"/><rect x="336.28" y="251.00" width="12.24" height="1.30" fill="#d44a6c"/><rect x="336.28" y="252.00" width="12.24" height="1.30" fill="#c47c8a"/><rect x="336.28" y="253.00" width="12.24" height="1.30" fill="#d44a6c"/><rect x="336.28" y="254.00" width="12.24" height="1.30" fill="#e8285a"/><rect x="336.28" y="255.00" width="12.24" height="1.80" fill="#d44a6c"/><rect x="336.28" y="256.50" width="12.24" height="2.30" fill="#fe0a3c"/><rect x="336.28" y="258.50" width="12.24" height="1.30" fill="#d44a6c"/><rect x="336.28" y="259.50" width="12.24" height="1.30" fill="#c47c8a"/><rect x="336.28" y="260.50" width="12.24" height="1.30" fill="#d44a6c"/><rect x="336.28" y="261.50" width="12.24" height="1.30" fill="#fe0a3c"/><rect x="336.28" y="262.50" width="12.24" height="1.30" fill="#e8285a"/><rect x="336.28" y="263.50" width="12.24" height="1.80" fill="#d44a6c"/><rect x="336.28" y="265.00" width="12.24" height="2.30" fill="#e8285a"/><rect x="336.28" y="267.00" width="12.24" height="1.30" fill="#d44a6c"/><rect x="336.28" y="268.00" width="12.24" height="2.30" fill="#fe0a3c"/><rect x="336.28" y="270.00" width="12.24" height="2.30" fill="#d44a6c"/><rect x="336.28" y="272.00" width="12.24" height="2.30" fill="#e8285a"/><rect x="336.28" y="274.00" width="12.24" height="5.30" fill="#c47c8a"/><rect x="336.28" y="279.00" width="12.24" height="3.80" fill="#d44a6c"/><rect x="336.28" y="282.50" width="12.24" height="1.80" fill="#c47c8a"/><rect x="336.28" y="284.00" width="12.24" height="1.80" fill="#fe0a3c"/><rect x="336.28" y="285.50" width="12.24" height="3.30" fill="#e8285a"/><rect x="336.28" y="288.50" width="12.24" height="2.80" fill="#c47c8a"/><rect x="336.28" y="291.00" width="12.24" height="1.80" fill="#e8285a"/><rect x="336.28" y="292.50" width="12.24" height="1.30" fill="#fe0a3c"/><rect x="336.28" y="293.50" width="12.24" height="1.30" fill="#e8285a"/><rect x="336.28" y="294.50" width="12.24" height="1.30" fill="#d44a6c"/><rect x="336.28" y="295.50" width="12.24" height="1.30" fill="#e8285a"/><rect x="336.28" y="296.50" width="12.24" height="1.80" fill="#d44a6c"/><rect x="336.28" y="298.00" width="12.24" height="1.30" fill="#c47c8a"/><rect x="336.28" y="299.00" width="12.24" height="5.30" fill="#e8285a"/><rect x="336.28" y="304.00" width="12.24" height="1.30" fill="#d44a6c"/><rect x="336.28" y="305.00" width="12.24" height="1.30" fill="#fe0a3c"/><rect x="336.28" y="306.00" width="12.24" height="2.30" fill="#e8285a"/><rect x="336.28" y="308.00" width="12.24" height="1.30" fill="#c47c8a"/><rect x="336.28" y="309.00" width="12.24" height="3.30" fill="#e8285a"/><rect x="336.28" y="312.00" width="12.24" height="1.30" fill="#fe0a3c"/><rect x="336.28" y="313.00" width="12.24" height="3.30" fill="#c47c8a"/><rect x="336.28" y="316.00" width="12.24" height="1.30" fill="#e8285a"/><rect x="336.28" y="317.00" width="12.24" height="3.30" fill="#d44a6c"/><rect x="336.28" y="320.00" width="12.24" height="1.80" fill="#e8285a"/><rect x="336.28" y="321.50" width="12.24" height="3.30" fill="#c47c8a"/><rect x="336.28" y="324.50" width="12.24" height="2.30" fill="#e8285a"/><rect x="336.28" y="326.50" width="12.24" height="3.80" fill="#c47c8a"/><rect x="336.28" y="330.00" width="12.24" height="4.30" fill="#8cb484"/><rect x="336.28" y="334.00" width="12.24" height="3.30" fill="#e8285a"/><rect x="336.28" y="337.00" width="12.24" height="1.30" fill="#d44a6c"/><rect x="336.28" y="338.00" width="12.24" height="3.30" fill="#e8285a"/><rect x="336.28" y="341.00" width="12.24" height="2.30" fill="#d44a6c"/><rect x="336.28" y="343.00" width="12.24" height="1.80" fill="#e8285a"/><rect x="336.28" y="344.50" width="12.24" height="3.30" fill="#fe0a3c"/><rect x="336.28" y="347.50" width="12.24" height="2.30" fill="#e8285a"/><rect x="336.28" y="349.50" width="12.24" height="2.30" fill="#fe0a3c"/><rect x="336.28" y="351.50" width="12.24" height="1.30" fill="#d44a6c"/><rect x="336.28" y="352.50" width="12.24" height="0.80" fill="#e8285a"/><rect x="347.93" y="64.00" width="12.24" height="2.00" fill="#d44a6c"/><rect x="347.93" y="65.70" width="12.24" height="79.60" fill="#06f43a"/><rect x="347.93" y="145.00" width="12.24" height="6.30" fill="#d44a6c"/><rect x="347.93" y="151.00" width="12.24" height="2.30" fill="#4cd872"/><rect x="347.93" y="153.00" width="12.24" height="1.30" fill="#a8a294"/><rect x="347.93" y="154.00" width="12.24" height="6.30" fill="#4cd872"/><rect x="347.93" y="160.00" width="12.24" height="2.30" fill="#e8285a"/><rect x="347.93" y="162.00" width="12.24" height="3.30" fill="#a8a294"/><rect x="347.93" y="165.00" width="12.24" height="6.30" fill="#c47c8a"/><rect x="347.93" y="171.00" width="12.24" height="11.30" fill="#e8285a"/><rect x="347.93" y="182.00" width="12.24" height="2.30" fill="#a8a294"/><rect x="347.93" y="184.00" width="12.24" height="3.80" fill="#c47c8a"/><rect x="347.93" y="187.50" width="12.24" height="5.30" fill="#d44a6c"/><rect x="347.93" y="192.50" width="12.24" height="0.80" fill="#fe0a3c"/><rect x="347.93" y="193.00" width="12.24" height="4.80" fill="#e8285a"/><rect x="347.93" y="197.50" width="12.24" height="5.80" fill="#fe0a3c"/><rect x="347.93" y="203.00" width="12.24" height="1.30" fill="#e8285a"/><rect x="347.93" y="204.00" width="12.24" height="2.30" fill="#fe0a3c"/><rect x="347.93" y="206.00" width="12.24" height="2.80" fill="#e8285a"/><rect x="347.93" y="208.50" width="12.24" height="6.30" fill="#fe0a3c"/><rect x="347.93" y="214.50" width="12.24" height="5.80" fill="#e8285a"/><rect x="347.93" y="220.00" width="12.24" height="1.30" fill="#fe0a3c"/><rect x="347.93" y="221.00" width="12.24" height="1.30" fill="#e8285a"/><rect x="347.93" y="222.00" width="12.24" height="21.30" fill="#fe0a3c"/><rect x="347.93" y="243.00" width="12.24" height="1.80" fill="#d44a6c"/><rect x="347.93" y="244.50" width="12.24" height="4.80" fill="#c47c8a"/><rect x="347.93" y="249.00" width="12.24" height="2.30" fill="#fe0a3c"/><rect x="347.93" y="251.00" width="12.24" height="1.30" fill="#d44a6c"/><rect x="347.93" y="252.00" width="12.24" height="1.30" fill="#c47c8a"/><rect x="347.93" y="253.00" width="12.24" height="1.30" fill="#fe0a3c"/><rect x="347.93" y="254.00" width="12.24" height="2.80" fill="#e8285a"/><rect x="347.93" y="256.50" width="12.24" height="3.30" fill="#fe0a3c"/><rect x="347.93" y="259.50" width="12.24" height="1.30" fill="#c47c8a"/><rect x="347.93" y="260.50" width="12.24" height="1.30" fill="#d44a6c"/><rect x="347.93" y="261.50" width="12.24" height="1.30" fill="#fe0a3c"/><rect x="347.93" y="262.50" width="12.24" height="1.30" fill="#c47c8a"/><rect x="347.93" y="263.50" width="12.24" height="1.80" fill="#d44a6c"/><rect x="347.93" y="265.00" width="12.24" height="2.30" fill="#e8285a"/><rect x="347.93" y="267.00" width="12.24" height="1.30" fill="#d44a6c"/><rect x="347.93" y="268.00" width="12.24" height="2.30" fill="#fe0a3c"/><rect x="347.93" y="270.00" width="12.24" height="2.30" fill="#d44a6c"/><rect x="347.93" y="272.00" width="12.24" height="4.30" fill="#e8285a"/><rect x="347.93" y="276.00" width="12.24" height="2.30" fill="#fe0a3c"/><rect x="347.93" y="278.00" width="12.24" height="1.30" fill="#c47c8a"/><rect x="347.93" y="279.00" width="12.24" height="1.80" fill="#d44a6c"/><rect x="347.93" y="280.50" width="12.24" height="2.30" fill="#c47c8a"/><rect x="347.93" y="282.50" width="12.24" height="1.80" fill="#e8285a"/><rect x="347.93" y="284.00" width="12.24" height="1.80" fill="#fe0a3c"/><rect x="347.93" y="285.50" width="12.24" height="1.80" fill="#d44a6c"/><rect x="347.93" y="287.00" width="12.24" height="1.80" fill="#c47c8a"/><rect x="347.93" y="288.50" width="12.24" height="1.30" fill="#fe0a3c"/><rect x="347.93" y="289.50" width="12.24" height="1.80" fill="#c47c8a"/><rect x="347.93" y="291.00" width="12.24" height="1.80" fill="#e8285a"/><rect x="347.93" y="292.50" width="12.24" height="1.30" fill="#d44a6c"/><rect x="347.93" y="293.50" width="12.24" height="1.30" fill="#e8285a"/><rect x="347.93" y="294.50" width="12.24" height="1.30" fill="#c47c8a"/><rect x="347.93" y="295.50" width="12.24" height="1.30" fill="#fe0a3c"/><rect x="347.93" y="296.50" width="12.24" height="1.80" fill="#d44a6c"/><rect x="347.93" y="298.00" width="12.24" height="1.30" fill="#c47c8a"/><rect x="347.93" y="299.00" width="12.24" height="1.30" fill="#e8285a"/><rect x="347.93" y="300.00" width="12.24" height="1.30" fill="#c47c8a"/><rect x="347.93" y="301.00" width="12.24" height="3.30" fill="#e8285a"/><rect x="347.93" y="304.00" width="12.24" height="1.30" fill="#d44a6c"/><rect x="347.93" y="305.00" width="12.24" height="1.30" fill="#fe0a3c"/><rect x="347.93" y="306.00" width="12.24" height="2.30" fill="#e8285a"/><rect x="347.93" y="308.00" width="12.24" height="1.30" fill="#c47c8a"/><rect x="347.93" y="309.00" width="12.24" height="3.30" fill="#fe0a3c"/><rect x="347.93" y="312.00" width="12.24" height="1.30" fill="#e8285a"/><rect x="347.93" y="313.00" width="12.24" height="3.30" fill="#c47c8a"/><rect x="347.93" y="316.00" width="12.24" height="1.30" fill="#e8285a"/><rect x="347.93" y="317.00" width="12.24" height="1.30" fill="#a8a294"/><rect x="347.93" y="318.00" width="12.24" height="2.30" fill="#e8285a"/><rect x="347.93" y="320.00" width="12.24" height="1.80" fill="#c47c8a"/><rect x="347.93" y="321.50" width="12.24" height="1.30" fill="#a8a294"/><rect x="347.93" y="322.50" width="12.24" height="1.30" fill="#e8285a"/><rect x="347.93" y="323.50" width="12.24" height="1.30" fill="#c47c8a"/><rect x="347.93" y="324.50" width="12.24" height="2.30" fill="#e8285a"/><rect x="347.93" y="326.50" width="12.24" height="1.30" fill="#a8a294"/><rect x="347.93" y="327.50" width="12.24" height="1.80" fill="#d44a6c"/><rect x="347.93" y="329.00" width="12.24" height="1.30" fill="#a8a294"/><rect x="347.93" y="330.00" width="12.24" height="1.30" fill="#d44a6c"/><rect x="347.93" y="331.00" width="12.24" height="0.80" fill="#e8285a"/><rect x="347.93" y="331.50" width="12.24" height="2.80" fill="#a8a294"/><rect x="347.93" y="334.00" width="12.24" height="1.80" fill="#c47c8a"/><rect x="347.93" y="335.50" width="12.24" height="6.80" fill="#e8285a"/><rect x="347.93" y="342.00" width="12.24" height="1.30" fill="#a8a294"/><rect x="347.93" y="343.00" width="12.24" height="1.80" fill="#e8285a"/><rect x="347.93" y="344.50" width="12.24" height="3.30" fill="#d44a6c"/><rect x="347.93" y="347.50" width="12.24" height="1.30" fill="#c47c8a"/><rect x="347.93" y="348.50" width="12.24" height="1.30" fill="#d44a6c"/><rect x="347.93" y="349.50" width="12.24" height="3.30" fill="#c47c8a"/><rect x="347.93" y="352.50" width="12.24" height="0.80" fill="#d44a6c"/><rect x="359.57" y="64.00" width="12.24" height="81.30" fill="#06f43a"/><rect x="359.57" y="145.00" width="12.24" height="1.30" fill="#c47c8a"/><rect x="359.57" y="146.00" width="12.24" height="14.30" fill="#a8a294"/><rect x="359.57" y="160.00" width="12.24" height="2.30" fill="#c47c8a"/><rect x="359.57" y="162.00" width="12.24" height="3.30" fill="#a8a294"/><rect x="359.57" y="165.00" width="12.24" height="1.30" fill="#c47c8a"/><rect x="359.57" y="166.00" width="12.24" height="1.30" fill="#a8a294"/><rect x="359.57" y="167.00" width="12.24" height="4.30" fill="#c47c8a"/><rect x="359.57" y="171.00" width="12.24" height="2.30" fill="#a8a294"/><rect x="359.57" y="173.00" width="12.24" height="1.80" fill="#c47c8a"/><rect x="359.57" y="174.50" width="12.24" height="6.30" fill="#a8a294"/><rect x="359.57" y="180.50" width="12.24" height="1.30" fill="#c47c8a"/><rect x="359.57" y="181.50" width="12.24" height="0.80" fill="#a8a294"/><rect x="359.57" y="182.00" width="12.24" height="5.80" fill="#4cd872"/><rect x="359.57" y="187.50" width="12.24" height="4.30" fill="#c47c8a"/><rect x="359.57" y="191.50" width="12.24" height="1.80" fill="#e8285a"/><rect x="359.57" y="193.00" width="12.24" height="4.80" fill="#d44a6c"/><rect x="359.57" y="197.50" width="12.24" height="2.30" fill="#e8285a"/><rect x="359.57" y="199.50" width="12.24" height="1.80" fill="#fe0a3c"/><rect x="359.57" y="201.00" width="12.24" height="1.30" fill="#e8285a"/><rect x="359.57" y="202.00" width="12.24" height="1.30" fill="#d44a6c"/><rect x="359.57" y="203.00" width="12.24" height="1.30" fill="#c47c8a"/><rect x="359.57" y="204.00" width="12.24" height="2.30" fill="#fe0a3c"/><rect x="359.57" y="206.00" width="12.24" height="2.80" fill="#d44a6c"/><rect x="359.57" y="208.50" width="12.24" height="1.80" fill="#e8285a"/><rect x="359.57" y="210.00" width="12.24" height="2.30" fill="#c47c8a"/><rect x="359.57" y="212.00" width="12.24" height="1.80" fill="#e8285a"/><rect x="359.57" y="213.50" width="12.24" height="6.80" fill="#d44a6c"/><rect x="359.57" y="220.00" width="12.24" height="1.30" fill="#c47c8a"/><rect x="359.57" y="221.00" width="12.24" height="2.30" fill="#e8285a"/><rect x="359.57" y="223.00" width="12.24" height="2.30" fill="#c47c8a"/><rect x="359.57" y="225.00" width="12.24" height="1.80" fill="#e8285a"/><rect x="359.57" y="226.50" width="12.24" height="1.80" fill="#fe0a3c"/><rect x="359.57" y="228.00" width="12.24" height="2.80" fill="#d44a6c"/><rect x="359.57" y="230.50" width="12.24" height="2.80" fill="#e8285a"/><rect x="359.57" y="233.00" width="12.24" height="1.80" fill="#c47c8a"/><rect x="359.57" y="234.50" width="12.24" height="2.30" fill="#d44a6c"/><rect x="359.57" y="236.50" width="12.24" height="1.30" fill="#c47c8a"/><rect x="359.57" y="237.50" width="12.24" height="5.80" fill="#e8285a"/><rect x="359.57" y="243.00" width="12.24" height="1.80" fill="#d44a6c"/><rect x="359.57" y="244.50" width="12.24" height="1.30" fill="#c47c8a"/><rect x="359.57" y="245.50" width="12.24" height="1.80" fill="#d44a6c"/><rect x="359.57" y="247.00" width="12.24" height="2.30" fill="#c47c8a"/><rect x="359.57" y="249.00" width="12.24" height="1.30" fill="#e8285a"/><rect x="359.57" y="250.00" width="12.24" height="1.30" fill="#c47c8a"/><rect x="359.57" y="251.00" width="12.24" height="1.30" fill="#d44a6c"/><rect x="359.57" y="252.00" width="12.24" height="1.30" fill="#e8285a"/><rect x="359.57" y="253.00" width="12.24" height="1.30" fill="#d44a6c"/><rect x="359.57" y="254.00" width="12.24" height="2.80" fill="#e8285a"/><rect x="359.57" y="256.50" width="12.24" height="2.30" fill="#fe0a3c"/><rect x="359.57" y="258.50" width="12.24" height="1.30" fill="#c47c8a"/><rect x="359.57" y="259.50" width="12.24" height="1.30" fill="#e8285a"/><rect x="359.57" y="260.50" width="12.24" height="1.30" fill="#d44a6c"/><rect x="359.57" y="261.50" width="12.24" height="1.30" fill="#c47c8a"/><rect x="359.57" y="262.50" width="12.24" height="2.80" fill="#d44a6c"/><rect x="359.57" y="265.00" width="12.24" height="2.30" fill="#e8285a"/><rect x="359.57" y="267.00" width="12.24" height="1.30" fill="#d44a6c"/><rect x="359.57" y="268.00" width="12.24" height="2.30" fill="#e8285a"/><rect x="359.57" y="270.00" width="12.24" height="2.30" fill="#c47c8a"/><rect x="359.57" y="272.00" width="12.24" height="1.30" fill="#fe0a3c"/><rect x="359.57" y="273.00" width="12.24" height="1.30" fill="#d44a6c"/><rect x="359.57" y="274.00" width="12.24" height="5.30" fill="#c47c8a"/><rect x="359.57" y="279.00" width="12.24" height="1.80" fill="#d44a6c"/><rect x="359.57" y="280.50" width="12.24" height="5.30" fill="#c47c8a"/><rect x="359.57" y="285.50" width="12.24" height="1.80" fill="#e8285a"/><rect x="359.57" y="287.00" width="12.24" height="2.80" fill="#c47c8a"/><rect x="359.57" y="289.50" width="12.24" height="1.80" fill="#d44a6c"/><rect x="359.57" y="291.00" width="12.24" height="1.80" fill="#e8285a"/><rect x="359.57" y="292.50" width="12.24" height="3.30" fill="#d44a6c"/><rect x="359.57" y="295.50" width="12.24" height="1.30" fill="#c47c8a"/><rect x="359.57" y="296.50" width="12.24" height="2.80" fill="#d44a6c"/><rect x="359.57" y="299.00" width="12.24" height="1.30" fill="#e8285a"/><rect x="359.57" y="300.00" width="12.24" height="1.30" fill="#d44a6c"/><rect x="359.57" y="301.00" width="12.24" height="3.30" fill="#e8285a"/><rect x="359.57" y="304.00" width="12.24" height="1.30" fill="#c47c8a"/><rect x="359.57" y="305.00" width="12.24" height="1.30" fill="#d44a6c"/><rect x="359.57" y="306.00" width="12.24" height="2.30" fill="#e8285a"/><rect x="359.57" y="308.00" width="12.24" height="4.30" fill="#c47c8a"/><rect x="359.57" y="312.00" width="12.24" height="1.30" fill="#e8285a"/><rect x="359.57" y="313.00" width="12.24" height="3.30" fill="#d44a6c"/><rect x="359.57" y="316.00" width="12.24" height="1.30" fill="#e8285a"/><rect x="359.57" y="317.00" width="12.24" height="1.30" fill="#d44a6c"/><rect x="359.57" y="318.00" width="12.24" height="3.80" fill="#e8285a"/><rect x="359.57" y="321.50" width="12.24" height="6.30" fill="#d44a6c"/><rect x="359.57" y="327.50" width="12.24" height="1.80" fill="#e8285a"/><rect x="359.57" y="329.00" width="12.24" height="2.30" fill="#d44a6c"/><rect x="359.57" y="331.00" width="12.24" height="0.80" fill="#e8285a"/><rect x="359.57" y="331.50" width="12.24" height="2.80" fill="#c47c8a"/><rect x="359.57" y="334.00" width="12.24" height="1.80" fill="#e8285a"/><rect x="359.57" y="335.50" width="12.24" height="1.80" fill="#fe0a3c"/><rect x="359.57" y="337.00" width="12.24" height="1.30" fill="#c47c8a"/><rect x="359.57" y="338.00" width="12.24" height="3.30" fill="#e8285a"/><rect x="359.57" y="341.00" width="12.24" height="1.30" fill="#c47c8a"/><rect x="359.57" y="342.00" width="12.24" height="1.30" fill="#d44a6c"/><rect x="359.57" y="343.00" width="12.24" height="1.80" fill="#fe0a3c"/><rect x="359.57" y="344.50" width="12.24" height="1.30" fill="#e8285a"/><rect x="359.57" y="345.50" width="12.24" height="4.30" fill="#c47c8a"/><rect x="359.57" y="349.50" width="12.24" height="2.30" fill="#e8285a"/><rect x="359.57" y="351.50" width="12.24" height="1.30" fill="#fe0a3c"/><rect x="359.57" y="352.50" width="12.24" height="0.80" fill="#e8285a"/><rect x="371.21" y="64.00" width="12.24" height="11.30" fill="#06f43a"/><rect x="371.21" y="75.00" width="12.24" height="3.30" fill="#8cb484"/><rect x="371.21" y="78.00" width="12.24" height="67.30" fill="#06f43a"/><rect x="371.21" y="145.00" width="12.24" height="1.30" fill="#e8285a"/><rect x="371.21" y="146.00" width="12.24" height="1.80" fill="#a8a294"/><rect x="371.21" y="147.50" width="12.24" height="2.30" fill="#e8285a"/><rect x="371.21" y="149.50" width="12.24" height="1.80" fill="#a8a294"/><rect x="371.21" y="151.00" width="12.24" height="1.30" fill="#c47c8a"/><rect x="371.21" y="152.00" width="12.24" height="8.30" fill="#a8a294"/><rect x="371.21" y="160.00" width="12.24" height="2.30" fill="#e8285a"/><rect x="371.21" y="162.00" width="12.24" height="4.30" fill="#a8a294"/><rect x="371.21" y="166.00" width="12.24" height="1.30" fill="#e8285a"/><rect x="371.21" y="167.00" width="12.24" height="2.30" fill="#a8a294"/><rect x="371.21" y="169.00" width="12.24" height="1.30" fill="#e8285a"/><rect x="371.21" y="170.00" width="12.24" height="1.30" fill="#a8a294"/><rect x="371.21" y="171.00" width="12.24" height="2.30" fill="#c47c8a"/><rect x="371.21" y="173.00" width="12.24" height="2.80" fill="#d44a6c"/><rect x="371.21" y="175.50" width="12.24" height="6.30" fill="#c47c8a"/><rect x="371.21" y="181.50" width="12.24" height="0.80" fill="#d44a6c"/><rect x="371.21" y="182.00" width="12.24" height="5.80" fill="#06f43a"/><rect x="371.21" y="187.50" width="12.24" height="2.30" fill="#d44a6c"/><rect x="371.21" y="189.50" width="12.24" height="3.80" fill="#fe0a3c"/><rect x="371.21" y="193.00" width="12.24" height="2.30" fill="#d44a6c"/><rect x="371.21" y="195.00" width="12.24" height="1.80" fill="#c47c8a"/><rect x="371.21" y="196.50" width="12.24" height="5.80" fill="#fe0a3c"/><rect x="371.21" y="202.00" width="12.24" height="2.30" fill="#d44a6c"/><rect x="371.21" y="204.00" width="12.24" height="2.30" fill="#fe0a3c"/><rect x="371.21" y="206.00" width="12.24" height="2.80" fill="#d44a6c"/><rect x="371.21" y="208.50" width="12.24" height="1.80" fill="#fe0a3c"/><rect x="371.21" y="210.00" width="12.24" height="1.30" fill="#d44a6c"/><rect x="371.21" y="211.00" width="12.24" height="1.30" fill="#fe0a3c"/><rect x="371.21" y="212.00" width="12.24" height="1.80" fill="#c47c8a"/><rect x="371.21" y="213.50" width="12.24" height="1.30" fill="#fe0a3c"/><rect x="371.21" y="214.50" width="12.24" height="1.30" fill="#d44a6c"/><rect x="371.21" y="215.50" width="12.24" height="2.30" fill="#fe0a3c"/><rect x="371.21" y="217.50" width="12.24" height="1.30" fill="#c47c8a"/><rect x="371.21" y="218.50" width="12.24" height="1.80" fill="#d44a6c"/><rect x="371.21" y="220.00" width="12.24" height="1.30" fill="#fe0a3c"/><rect x="371.21" y="221.00" width="12.24" height="1.30" fill="#d44a6c"/><rect x="371.21" y="222.00" width="12.24" height="1.30" fill="#fe0a3c"/><rect x="371.21" y="223.00" width="12.24" height="1.30" fill="#d44a6c"/><rect x="371.21" y="224.00" width="12.24" height="4.30" fill="#fe0a3c"/><rect x="371.21" y="228.00" width="12.24" height="1.80" fill="#d44a6c"/><rect x="371.21" y="229.50" width="12.24" height="1.30" fill="#c47c8a"/><rect x="371.21" y="230.50" width="12.24" height="1.30" fill="#fe0a3c"/><rect x="371.21" y="231.50" width="12.24" height="1.80" fill="#c47c8a"/><rect x="371.21" y="233.00" width="12.24" height="1.80" fill="#fe0a3c"/><rect x="371.21" y="234.50" width="12.24" height="2.30" fill="#d44a6c"/><rect x="371.21" y="236.50" width="12.24" height="27.30" fill="#fe0a3c"/><rect x="371.21" y="263.50" width="12.24" height="1.80" fill="#e8285a"/><rect x="371.21" y="265.00" width="12.24" height="14.30" fill="#fe0a3c"/><rect x="371.21" y="279.00" width="12.24" height="1.80" fill="#e8285a"/><rect x="371.21" y="280.50" width="12.24" height="34.80" fill="#fe0a3c"/><rect x="371.21" y="315.00" width="12.24" height="1.30" fill="#c47c8a"/><rect x="371.21" y="316.00" width="12.24" height="1.30" fill="#fe0a3c"/><rect x="371.21" y="317.00" width="12.24" height="1.30" fill="#c47c8a"/><rect x="371.21" y="318.00" width="12.24" height="3.80" fill="#fe0a3c"/><rect x="371.21" y="321.50" width="12.24" height="2.30" fill="#d44a6c"/><rect x="371.21" y="323.50" width="12.24" height="1.30" fill="#c47c8a"/><rect x="371.21" y="324.50" width="12.24" height="2.30" fill="#fe0a3c"/><rect x="371.21" y="326.50" width="12.24" height="1.30" fill="#d44a6c"/><rect x="371.21" y="327.50" width="12.24" height="1.80" fill="#fe0a3c"/><rect x="371.21" y="329.00" width="12.24" height="1.30" fill="#d44a6c"/><rect x="371.21" y="330.00" width="12.24" height="3.80" fill="#fe0a3c"/><rect x="371.21" y="333.50" width="12.24" height="2.30" fill="#c47c8a"/><rect x="371.21" y="335.50" width="12.24" height="1.80" fill="#fe0a3c"/><rect x="371.21" y="337.00" width="12.24" height="1.30" fill="#d44a6c"/><rect x="371.21" y="338.00" width="12.24" height="4.30" fill="#fe0a3c"/><rect x="371.21" y="342.00" width="12.24" height="2.80" fill="#d44a6c"/><rect x="371.21" y="344.50" width="12.24" height="7.30" fill="#fe0a3c"/><rect x="371.21" y="351.50" width="12.24" height="1.30" fill="#c47c8a"/><rect x="371.21" y="352.50" width="12.24" height="0.80" fill="#fe0a3c"/><rect x="382.85" y="64.00" width="12.24" height="3.30" fill="#c47c8a"/><rect x="382.85" y="67.00" width="12.24" height="0.80" fill="#e8285a"/><rect x="382.85" y="67.50" width="12.24" height="4.30" fill="#d44a6c"/><rect x="382.85" y="71.50" width="12.24" height="1.20" fill="#e8285a"/><rect x="382.85" y="72.40" width="12.24" height="0.40" fill="#d44a6c"/><rect x="382.85" y="72.50" width="12.24" height="4.30" fill="#c47c8a"/><rect x="382.85" y="76.50" width="12.24" height="24.80" fill="#fe0a3c"/><rect x="382.85" y="101.00" width="12.24" height="2.30" fill="#e8285a"/><rect x="382.85" y="103.00" width="12.24" height="2.30" fill="#a8a294"/><rect x="382.85" y="105.00" width="12.24" height="5.30" fill="#e8285a"/><rect x="382.85" y="110.00" width="12.24" height="16.30" fill="#fe0a3c"/><rect x="382.85" y="126.00" width="12.24" height="5.30" fill="#c47c8a"/><rect x="382.85" y="131.00" width="12.24" height="2.30" fill="#e8285a"/><rect x="382.85" y="133.00" width="12.24" height="1.30" fill="#d44a6c"/><rect x="382.85" y="134.00" width="12.24" height="2.30" fill="#e8285a"/><rect x="382.85" y="136.00" width="12.24" height="1.30" fill="#d44a6c"/><rect x="382.85" y="137.00" width="12.24" height="2.30" fill="#e8285a"/><rect x="382.85" y="139.00" width="12.24" height="1.30" fill="#d44a6c"/><rect x="382.85" y="140.00" width="12.24" height="1.30" fill="#e8285a"/><rect x="382.85" y="141.00" width="12.24" height="4.30" fill="#8cb484"/><rect x="382.85" y="145.00" width="12.24" height="1.30" fill="#c47c8a"/><rect x="382.85" y="146.00" width="12.24" height="1.80" fill="#e8285a"/><rect x="382.85" y="147.50" width="12.24" height="2.80" fill="#c47c8a"/><rect x="382.85" y="150.00" width="12.24" height="3.30" fill="#e8285a"/><rect x="382.85" y="153.00" width="12.24" height="3.30" fill="#c47c8a"/><rect x="382.85" y="156.00" width="12.24" height="3.30" fill="#8cb484"/><rect x="382.85" y="159.00" width="12.24" height="1.30" fill="#4cd872"/><rect x="382.85" y="160.00" width="12.24" height="1.30" fill="#8cb484"/><rect x="382.85" y="161.00" width="12.24" height="4.30" fill="#06f43a"/><rect x="382.85" y="165.00" width="12.24" height="2.30" fill="#e8285a"/><rect x="382.85" y="167.00" width="12.24" height="17.80" fill="#06f43a"/><rect x="382.85" y="184.50" width="12.24" height="3.30" fill="#22e652"/><rect x="382.85" y="187.50" width="12.24" height="5.80" fill="#06f43a"/><rect x="382.85" y="193.00" width="12.24" height="4.80" fill="#22e652"/><rect x="382.85" y="197.50" width="12.24" height="1.30" fill="#06f43a"/><rect x="382.85" y="198.50" width="12.24" height="1.30" fill="#22e652"/><rect x="382.85" y="199.50" width="12.24" height="1.80" fill="#06f43a"/><rect x="382.85" y="201.00" width="12.24" height="2.30" fill="#22e652"/><rect x="382.85" y="203.00" width="12.24" height="11.30" fill="#06f43a"/><rect x="382.85" y="214.00" width="12.24" height="1.80" fill="#22e652"/><rect x="382.85" y="215.50" width="12.24" height="3.30" fill="#4cd872"/><rect x="382.85" y="218.50" width="12.24" height="2.80" fill="#22e652"/><rect x="382.85" y="221.00" width="12.24" height="1.30" fill="#4cd872"/><rect x="382.85" y="222.00" width="12.24" height="2.30" fill="#22e652"/><rect x="382.85" y="224.00" width="12.24" height="1.30" fill="#4cd872"/><rect x="382.85" y="225.00" width="12.24" height="2.30" fill="#22e652"/><rect x="382.85" y="227.00" width="12.24" height="6.30" fill="#06f43a"/><rect x="382.85" y="233.00" width="12.24" height="1.80" fill="#22e652"/><rect x="382.85" y="234.50" width="12.24" height="4.30" fill="#06f43a"/><rect x="382.85" y="238.50" width="12.24" height="1.80" fill="#22e652"/><rect x="382.85" y="240.00" width="12.24" height="3.30" fill="#06f43a"/><rect x="382.85" y="243.00" width="12.24" height="1.80" fill="#22e652"/><rect x="382.85" y="244.50" width="12.24" height="6.80" fill="#06f43a"/><rect x="382.85" y="251.00" width="12.24" height="1.30" fill="#22e652"/><rect x="382.85" y="252.00" width="12.24" height="2.30" fill="#06f43a"/><rect x="382.85" y="254.00" width="12.24" height="1.30" fill="#22e652"/><rect x="382.85" y="255.00" width="12.24" height="1.80" fill="#06f43a"/><rect x="382.85" y="256.50" width="12.24" height="2.30" fill="#22e652"/><rect x="382.85" y="258.50" width="12.24" height="5.30" fill="#06f43a"/><rect x="382.85" y="263.50" width="12.24" height="1.80" fill="#22e652"/><rect x="382.85" y="265.00" width="12.24" height="9.30" fill="#06f43a"/><rect x="382.85" y="274.00" width="12.24" height="2.30" fill="#22e652"/><rect x="382.85" y="276.00" width="12.24" height="6.80" fill="#06f43a"/><rect x="382.85" y="282.50" width="12.24" height="1.80" fill="#22e652"/><rect x="382.85" y="284.00" width="12.24" height="10.80" fill="#06f43a"/><rect x="382.85" y="294.50" width="12.24" height="1.30" fill="#22e652"/><rect x="382.85" y="295.50" width="12.24" height="3.80" fill="#06f43a"/><rect x="382.85" y="299.00" width="12.24" height="2.30" fill="#22e652"/><rect x="382.85" y="301.00" width="12.24" height="3.30" fill="#06f43a"/><rect x="382.85" y="304.00" width="12.24" height="1.30" fill="#22e652"/><rect x="382.85" y="305.00" width="12.24" height="3.30" fill="#06f43a"/><rect x="382.85" y="308.00" width="12.24" height="1.30" fill="#22e652"/><rect x="382.85" y="309.00" width="12.24" height="6.30" fill="#06f43a"/><rect x="382.85" y="315.00" width="12.24" height="1.30" fill="#4cd872"/><rect x="382.85" y="316.00" width="12.24" height="2.30" fill="#22e652"/><rect x="382.85" y="318.00" width="12.24" height="2.30" fill="#4cd872"/><rect x="382.85" y="320.00" width="12.24" height="1.80" fill="#22e652"/><rect x="382.85" y="321.50" width="12.24" height="2.30" fill="#4cd872"/><rect x="382.85" y="323.50" width="12.24" height="3.30" fill="#22e652"/><rect x="382.85" y="326.50" width="12.24" height="3.80" fill="#4cd872"/><rect x="382.85" y="330.00" width="12.24" height="2.30" fill="#8cb484"/><rect x="382.85" y="332.00" width="12.24" height="2.80" fill="#22e652"/><rect x="382.85" y="334.50" width="12.24" height="2.80" fill="#e8285a"/><rect x="382.85" y="337.00" width="12.24" height="3.30" fill="#a8a294"/><rect x="382.85" y="340.00" width="12.24" height="3.30" fill="#e8285a"/><rect x="382.85" y="343.00" width="12.24" height="3.90" fill="#c47c8a"/><rect x="382.85" y="346.60" width="12.24" height="2.70" fill="#e8285a"/><rect x="382.85" y="349.00" width="12.24" height="4.30" fill="#a8a294"/><rect x="394.49" y="64.00" width="12.24" height="3.30" fill="#c47c8a"/><rect x="394.49" y="67.00" width="12.24" height="9.80" fill="#e8285a"/><rect x="394.49" y="76.50" width="12.24" height="2.30" fill="#fe0a3c"/><rect x="394.49" y="78.50" width="12.24" height="1.30" fill="#d44a6c"/><rect x="394.49" y="79.50" width="12.24" height="1.30" fill="#fe0a3c"/><rect x="394.49" y="80.50" width="12.24" height="7.30" fill="#e8285a"/><rect x="394.49" y="87.50" width="12.24" height="2.30" fill="#fe0a3c"/><rect x="394.49" y="89.50" width="12.24" height="1.80" fill="#e8285a"/><rect x="394.49" y="91.00" width="12.24" height="4.30" fill="#fe0a3c"/><rect x="394.49" y="95.00" width="12.24" height="1.30" fill="#d44a6c"/><rect x="394.49" y="96.00" width="12.24" height="2.30" fill="#e8285a"/><rect x="394.49" y="98.00" width="12.24" height="1.30" fill="#d44a6c"/><rect x="394.49" y="99.00" width="12.24" height="2.30" fill="#fe0a3c"/><rect x="394.49" y="101.00" width="12.24" height="2.30" fill="#d44a6c"/><rect x="394.49" y="103.00" width="12.24" height="2.80" fill="#e8285a"/><rect x="394.49" y="105.50" width="12.24" height="1.30" fill="#d44a6c"/><rect x="394.49" y="106.50" width="12.24" height="1.30" fill="#fe0a3c"/><rect x="394.49" y="107.50" width="12.24" height="2.30" fill="#e8285a"/><rect x="394.49" y="109.50" width="12.24" height="1.30" fill="#fe0a3c"/><rect x="394.49" y="110.50" width="12.24" height="3.80" fill="#e8285a"/><rect x="394.49" y="114.00" width="12.24" height="2.30" fill="#d44a6c"/><rect x="394.49" y="116.00" width="12.24" height="3.30" fill="#e8285a"/><rect x="394.49" y="119.00" width="12.24" height="1.30" fill="#fe0a3c"/><rect x="394.49" y="120.00" width="12.24" height="9.30" fill="#e8285a"/><rect x="394.49" y="129.00" width="12.24" height="1.30" fill="#fe0a3c"/><rect x="394.49" y="130.00" width="12.24" height="1.30" fill="#e8285a"/><rect x="394.49" y="131.00" width="12.24" height="2.30" fill="#fe0a3c"/><rect x="394.49" y="133.00" width="12.24" height="1.30" fill="#e8285a"/><rect x="394.49" y="134.00" width="12.24" height="2.30" fill="#fe0a3c"/><rect x="394.49" y="136.00" width="12.24" height="1.30" fill="#e8285a"/><rect x="394.49" y="137.00" width="12.24" height="2.30" fill="#fe0a3c"/><rect x="394.49" y="139.00" width="12.24" height="1.30" fill="#e8285a"/><rect x="394.49" y="140.00" width="12.24" height="1.30" fill="#fe0a3c"/><rect x="394.49" y="141.00" width="12.24" height="4.30" fill="#8cb484"/><rect x="394.49" y="145.00" width="12.24" height="1.30" fill="#c47c8a"/><rect x="394.49" y="146.00" width="12.24" height="1.80" fill="#e8285a"/><rect x="394.49" y="147.50" width="12.24" height="2.80" fill="#c47c8a"/><rect x="394.49" y="150.00" width="12.24" height="3.30" fill="#e8285a"/><rect x="394.49" y="153.00" width="12.24" height="3.30" fill="#c47c8a"/><rect x="394.49" y="156.00" width="12.24" height="3.30" fill="#8cb484"/><rect x="394.49" y="159.00" width="12.24" height="1.30" fill="#4cd872"/><rect x="394.49" y="160.00" width="12.24" height="1.30" fill="#8cb484"/><rect x="394.49" y="161.00" width="12.24" height="4.30" fill="#06f43a"/><rect x="394.49" y="165.00" width="12.24" height="2.30" fill="#e8285a"/><rect x="394.49" y="167.00" width="12.24" height="4.30" fill="#06f43a"/><rect x="394.49" y="171.00" width="12.24" height="2.30" fill="#22e652"/><rect x="394.49" y="173.00" width="12.24" height="3.80" fill="#06f43a"/><rect x="394.49" y="176.50" width="12.24" height="1.30" fill="#22e652"/><rect x="394.49" y="177.50" width="12.24" height="7.30" fill="#06f43a"/><rect x="394.49" y="184.50" width="12.24" height="2.30" fill="#22e652"/><rect x="394.49" y="186.50" width="12.24" height="6.80" fill="#06f43a"/><rect x="394.49" y="193.00" width="12.24" height="4.80" fill="#22e652"/><rect x="394.49" y="197.50" width="12.24" height="6.80" fill="#06f43a"/><rect x="394.49" y="204.00" width="12.24" height="2.30" fill="#22e652"/><rect x="394.49" y="206.00" width="12.24" height="8.30" fill="#06f43a"/><rect x="394.49" y="214.00" width="12.24" height="3.80" fill="#4cd872"/><rect x="394.49" y="217.50" width="12.24" height="1.30" fill="#22e652"/><rect x="394.49" y="218.50" width="12.24" height="1.80" fill="#4cd872"/><rect x="394.49" y="220.00" width="12.24" height="1.30" fill="#22e652"/><rect x="394.49" y="221.00" width="12.24" height="1.30" fill="#4cd872"/><rect x="394.49" y="222.00" width="12.24" height="2.30" fill="#22e652"/><rect x="394.49" y="224.00" width="12.24" height="3.30" fill="#4cd872"/><rect x="394.49" y="227.00" width="12.24" height="6.30" fill="#06f43a"/><rect x="394.49" y="233.00" width="12.24" height="1.80" fill="#22e652"/><rect x="394.49" y="234.50" width="12.24" height="4.30" fill="#06f43a"/><rect x="394.49" y="238.50" width="12.24" height="1.80" fill="#22e652"/><rect x="394.49" y="240.00" width="12.24" height="11.30" fill="#06f43a"/><rect x="394.49" y="251.00" width="12.24" height="1.30" fill="#22e652"/><rect x="394.49" y="252.00" width="12.24" height="10.80" fill="#06f43a"/><rect x="394.49" y="262.50" width="12.24" height="2.80" fill="#22e652"/><rect x="394.49" y="265.00" width="12.24" height="7.30" fill="#06f43a"/><rect x="394.49" y="272.00" width="12.24" height="1.30" fill="#22e652"/><rect x="394.49" y="273.00" width="12.24" height="1.30" fill="#06f43a"/><rect x="394.49" y="274.00" width="12.24" height="2.30" fill="#22e652"/><rect x="394.49" y="276.00" width="12.24" height="6.80" fill="#06f43a"/><rect x="394.49" y="282.50" width="12.24" height="1.80" fill="#22e652"/><rect x="394.49" y="284.00" width="12.24" height="8.80" fill="#06f43a"/><rect x="394.49" y="292.50" width="12.24" height="1.30" fill="#22e652"/><rect x="394.49" y="293.50" width="12.24" height="2.30" fill="#06f43a"/><rect x="394.49" y="295.50" width="12.24" height="2.80" fill="#22e652"/><rect x="394.49" y="298.00" width="12.24" height="1.30" fill="#06f43a"/><rect x="394.49" y="299.00" width="12.24" height="2.30" fill="#22e652"/><rect x="394.49" y="301.00" width="12.24" height="3.30" fill="#06f43a"/><rect x="394.49" y="304.00" width="12.24" height="1.30" fill="#22e652"/><rect x="394.49" y="305.00" width="12.24" height="3.30" fill="#06f43a"/><rect x="394.49" y="308.00" width="12.24" height="1.30" fill="#22e652"/><rect x="394.49" y="309.00" width="12.24" height="6.30" fill="#06f43a"/><rect x="394.49" y="315.00" width="12.24" height="1.30" fill="#4cd872"/><rect x="394.49" y="316.00" width="12.24" height="2.30" fill="#22e652"/><rect x="394.49" y="318.00" width="12.24" height="2.30" fill="#4cd872"/><rect x="394.49" y="320.00" width="12.24" height="1.80" fill="#22e652"/><rect x="394.49" y="321.50" width="12.24" height="2.30" fill="#4cd872"/><rect x="394.49" y="323.50" width="12.24" height="3.30" fill="#22e652"/><rect x="394.49" y="326.50" width="12.24" height="2.80" fill="#4cd872"/><rect x="394.49" y="329.00" width="12.24" height="1.30" fill="#22e652"/><rect x="394.49" y="330.00" width="12.24" height="2.30" fill="#8cb484"/><rect x="394.49" y="332.00" width="12.24" height="2.80" fill="#22e652"/><rect x="394.49" y="334.50" width="12.24" height="2.80" fill="#e8285a"/><rect x="394.49" y="337.00" width="12.24" height="3.30" fill="#a8a294"/><rect x="394.49" y="340.00" width="12.24" height="3.30" fill="#e8285a"/><rect x="394.49" y="343.00" width="12.24" height="3.90" fill="#c47c8a"/><rect x="394.49" y="346.60" width="12.24" height="2.70" fill="#e8285a"/><rect x="394.49" y="349.00" width="12.24" height="4.30" fill="#a8a294"/><rect x="406.13" y="64.00" width="12.24" height="14.80" fill="#fe0a3c"/><rect x="406.13" y="78.50" width="12.24" height="1.30" fill="#d44a6c"/><rect x="406.13" y="79.50" width="12.24" height="2.30" fill="#fe0a3c"/><rect x="406.13" y="81.50" width="12.24" height="3.30" fill="#e8285a"/><rect x="406.13" y="84.50" width="12.24" height="5.30" fill="#fe0a3c"/><rect x="406.13" y="89.50" width="12.24" height="1.80" fill="#d44a6c"/><rect x="406.13" y="91.00" width="12.24" height="5.30" fill="#fe0a3c"/><rect x="406.13" y="96.00" width="12.24" height="2.30" fill="#d44a6c"/><rect x="406.13" y="98.00" width="12.24" height="1.30" fill="#fe0a3c"/><rect x="406.13" y="99.00" width="12.24" height="4.30" fill="#e8285a"/><rect x="406.13" y="103.00" width="12.24" height="2.80" fill="#fe0a3c"/><rect x="406.13" y="105.50" width="12.24" height="1.30" fill="#e8285a"/><rect x="406.13" y="106.50" width="12.24" height="1.30" fill="#fe0a3c"/><rect x="406.13" y="107.50" width="12.24" height="2.30" fill="#e8285a"/><rect x="406.13" y="109.50" width="12.24" height="1.30" fill="#fe0a3c"/><rect x="406.13" y="110.50" width="12.24" height="6.80" fill="#e8285a"/><rect x="406.13" y="117.00" width="12.24" height="2.30" fill="#d44a6c"/><rect x="406.13" y="119.00" width="12.24" height="1.30" fill="#fe0a3c"/><rect x="406.13" y="120.00" width="12.24" height="2.30" fill="#e8285a"/><rect x="406.13" y="122.00" width="12.24" height="2.30" fill="#fe0a3c"/><rect x="406.13" y="124.00" width="12.24" height="2.30" fill="#e8285a"/><rect x="406.13" y="126.00" width="12.24" height="2.30" fill="#fe0a3c"/><rect x="406.13" y="128.00" width="12.24" height="1.30" fill="#e8285a"/><rect x="406.13" y="129.00" width="12.24" height="2.30" fill="#d44a6c"/><rect x="406.13" y="131.00" width="12.24" height="3.30" fill="#e8285a"/><rect x="406.13" y="134.00" width="12.24" height="2.30" fill="#fe0a3c"/><rect x="406.13" y="136.00" width="12.24" height="1.30" fill="#e8285a"/><rect x="406.13" y="137.00" width="12.24" height="2.30" fill="#fe0a3c"/><rect x="406.13" y="139.00" width="12.24" height="2.30" fill="#d44a6c"/><rect x="406.13" y="141.00" width="12.24" height="4.30" fill="#8cb484"/><rect x="406.13" y="145.00" width="12.24" height="1.30" fill="#c47c8a"/><rect x="406.13" y="146.00" width="12.24" height="1.80" fill="#d44a6c"/><rect x="406.13" y="147.50" width="12.24" height="2.80" fill="#c47c8a"/><rect x="406.13" y="150.00" width="12.24" height="3.30" fill="#e8285a"/><rect x="406.13" y="153.00" width="12.24" height="3.30" fill="#c47c8a"/><rect x="406.13" y="156.00" width="12.24" height="3.30" fill="#8cb484"/><rect x="406.13" y="159.00" width="12.24" height="1.30" fill="#4cd872"/><rect x="406.13" y="160.00" width="12.24" height="1.30" fill="#8cb484"/><rect x="406.13" y="161.00" width="12.24" height="4.30" fill="#06f43a"/><rect x="406.13" y="165.00" width="12.24" height="2.30" fill="#d44a6c"/><rect x="406.13" y="167.00" width="12.24" height="3.30" fill="#06f43a"/><rect x="406.13" y="170.00" width="12.24" height="1.30" fill="#22e652"/><rect x="406.13" y="171.00" width="12.24" height="5.80" fill="#06f43a"/><rect x="406.13" y="176.50" width="12.24" height="1.30" fill="#22e652"/><rect x="406.13" y="177.50" width="12.24" height="7.30" fill="#06f43a"/><rect x="406.13" y="184.50" width="12.24" height="3.30" fill="#22e652"/><rect x="406.13" y="187.50" width="12.24" height="7.80" fill="#06f43a"/><rect x="406.13" y="195.00" width="12.24" height="1.80" fill="#22e652"/><rect x="406.13" y="196.50" width="12.24" height="4.80" fill="#06f43a"/><rect x="406.13" y="201.00" width="12.24" height="1.30" fill="#22e652"/><rect x="406.13" y="202.00" width="12.24" height="2.30" fill="#06f43a"/><rect x="406.13" y="204.00" width="12.24" height="2.30" fill="#22e652"/><rect x="406.13" y="206.00" width="12.24" height="4.30" fill="#06f43a"/><rect x="406.13" y="210.00" width="12.24" height="1.30" fill="#22e652"/><rect x="406.13" y="211.00" width="12.24" height="3.30" fill="#06f43a"/><rect x="406.13" y="214.00" width="12.24" height="3.80" fill="#4cd872"/><rect x="406.13" y="217.50" width="12.24" height="4.80" fill="#22e652"/><rect x="406.13" y="222.00" width="12.24" height="1.30" fill="#4cd872"/><rect x="406.13" y="223.00" width="12.24" height="1.30" fill="#22e652"/><rect x="406.13" y="224.00" width="12.24" height="1.30" fill="#4cd872"/><rect x="406.13" y="225.00" width="12.24" height="1.80" fill="#22e652"/><rect x="406.13" y="226.50" width="12.24" height="0.80" fill="#4cd872"/><rect x="406.13" y="227.00" width="12.24" height="6.30" fill="#06f43a"/><rect x="406.13" y="233.00" width="12.24" height="1.80" fill="#22e652"/><rect x="406.13" y="234.50" width="12.24" height="4.30" fill="#06f43a"/><rect x="406.13" y="238.50" width="12.24" height="1.80" fill="#22e652"/><rect x="406.13" y="240.00" width="12.24" height="2.30" fill="#06f43a"/><rect x="406.13" y="242.00" width="12.24" height="1.30" fill="#22e652"/><rect x="406.13" y="243.00" width="12.24" height="19.80" fill="#06f43a"/><rect x="406.13" y="262.50" width="12.24" height="2.80" fill="#22e652"/><rect x="406.13" y="265.00" width="12.24" height="17.80" fill="#06f43a"/><rect x="406.13" y="282.50" width="12.24" height="1.80" fill="#22e652"/><rect x="406.13" y="284.00" width="12.24" height="15.30" fill="#06f43a"/><rect x="406.13" y="299.00" width="12.24" height="2.30" fill="#22e652"/><rect x="406.13" y="301.00" width="12.24" height="3.30" fill="#06f43a"/><rect x="406.13" y="304.00" width="12.24" height="1.30" fill="#22e652"/><rect x="406.13" y="305.00" width="12.24" height="3.30" fill="#06f43a"/><rect x="406.13" y="308.00" width="12.24" height="1.30" fill="#22e652"/><rect x="406.13" y="309.00" width="12.24" height="6.30" fill="#06f43a"/><rect x="406.13" y="315.00" width="12.24" height="3.30" fill="#22e652"/><rect x="406.13" y="318.00" width="12.24" height="2.30" fill="#4cd872"/><rect x="406.13" y="320.00" width="12.24" height="1.80" fill="#22e652"/><rect x="406.13" y="321.50" width="12.24" height="6.30" fill="#4cd872"/><rect x="406.13" y="327.50" width="12.24" height="2.80" fill="#22e652"/><rect x="406.13" y="330.00" width="12.24" height="2.30" fill="#8cb484"/><rect x="406.13" y="332.00" width="12.24" height="2.80" fill="#22e652"/><rect x="406.13" y="334.50" width="12.24" height="2.80" fill="#e8285a"/><rect x="406.13" y="337.00" width="12.24" height="3.30" fill="#a8a294"/><rect x="406.13" y="340.00" width="12.24" height="3.30" fill="#e8285a"/><rect x="406.13" y="343.00" width="12.24" height="3.90" fill="#c47c8a"/><rect x="406.13" y="346.60" width="12.24" height="2.70" fill="#e8285a"/><rect x="406.13" y="349.00" width="12.24" height="4.30" fill="#a8a294"/><rect x="417.77" y="64.00" width="12.24" height="3.30" fill="#c47c8a"/><rect x="417.77" y="67.00" width="12.24" height="5.70" fill="#b4aaa4"/><rect x="417.77" y="72.40" width="12.24" height="6.40" fill="#c47c8a"/><rect x="417.77" y="78.50" width="12.24" height="1.30" fill="#a8a294"/><rect x="417.77" y="79.50" width="12.24" height="2.30" fill="#c47c8a"/><rect x="417.77" y="81.50" width="12.24" height="5.30" fill="#d44a6c"/><rect x="417.77" y="86.50" width="12.24" height="8.80" fill="#c47c8a"/><rect x="417.77" y="95.00" width="12.24" height="3.30" fill="#d44a6c"/><rect x="417.77" y="98.00" width="12.24" height="1.30" fill="#a8a294"/><rect x="417.77" y="99.00" width="12.24" height="11.80" fill="#fe0a3c"/><rect x="417.77" y="110.50" width="12.24" height="1.30" fill="#e8285a"/><rect x="417.77" y="111.50" width="12.24" height="10.80" fill="#fe0a3c"/><rect x="417.77" y="122.00" width="12.24" height="1.30" fill="#e8285a"/><rect x="417.77" y="123.00" width="12.24" height="7.30" fill="#fe0a3c"/><rect x="417.77" y="130.00" width="12.24" height="1.30" fill="#e8285a"/><rect x="417.77" y="131.00" width="12.24" height="4.30" fill="#fe0a3c"/><rect x="417.77" y="135.00" width="12.24" height="6.30" fill="#a8a294"/><rect x="417.77" y="141.00" width="12.24" height="24.30" fill="#fe0a3c"/><rect x="417.77" y="165.00" width="12.24" height="3.30" fill="#06f43a"/><rect x="417.77" y="168.00" width="12.24" height="3.30" fill="#c47c8a"/><rect x="417.77" y="171.00" width="12.24" height="3.30" fill="#e8285a"/><rect x="417.77" y="174.00" width="12.24" height="2.30" fill="#a8a294"/><rect x="417.77" y="176.00" width="12.24" height="2.30" fill="#e8285a"/><rect x="417.77" y="178.00" width="12.24" height="1.30" fill="#a8a294"/><rect x="417.77" y="179.00" width="12.24" height="4.30" fill="#e8285a"/><rect x="417.77" y="183.00" width="12.24" height="3.80" fill="#fe0a3c"/><rect x="417.77" y="186.50" width="12.24" height="1.30" fill="#a8a294"/><rect x="417.77" y="187.50" width="12.24" height="1.30" fill="#4cd872"/><rect x="417.77" y="188.50" width="12.24" height="1.30" fill="#8cb484"/><rect x="417.77" y="189.50" width="12.24" height="2.30" fill="#4cd872"/><rect x="417.77" y="191.50" width="12.24" height="5.30" fill="#a8a294"/><rect x="417.77" y="196.50" width="12.24" height="1.30" fill="#4cd872"/><rect x="417.77" y="197.50" width="12.24" height="2.30" fill="#a8a294"/><rect x="417.77" y="199.50" width="12.24" height="1.80" fill="#4cd872"/><rect x="417.77" y="201.00" width="12.24" height="1.30" fill="#a8a294"/><rect x="417.77" y="202.00" width="12.24" height="2.30" fill="#8cb484"/><rect x="417.77" y="204.00" width="12.24" height="2.30" fill="#a8a294"/><rect x="417.77" y="206.00" width="12.24" height="1.30" fill="#4cd872"/><rect x="417.77" y="207.00" width="12.24" height="7.30" fill="#c47c8a"/><rect x="417.77" y="214.00" width="12.24" height="6.30" fill="#8cb484"/><rect x="417.77" y="220.00" width="12.24" height="130.30" fill="#06f43a"/><rect x="417.77" y="350.00" width="12.24" height="3.30" fill="#c47c8a"/><rect x="429.42" y="64.00" width="12.24" height="3.30" fill="#8cb484"/><rect x="429.42" y="67.00" width="12.24" height="5.70" fill="#fe0a3c"/><rect x="429.42" y="72.40" width="12.24" height="4.40" fill="#d44a6c"/><rect x="429.42" y="76.50" width="12.24" height="4.80" fill="#fe0a3c"/><rect x="429.42" y="81.00" width="12.24" height="5.30" fill="#e8285a"/><rect x="429.42" y="86.00" width="12.24" height="1.80" fill="#c47c8a"/><rect x="429.42" y="87.50" width="12.24" height="2.30" fill="#d44a6c"/><rect x="429.42" y="89.50" width="12.24" height="1.80" fill="#c47c8a"/><rect x="429.42" y="91.00" width="12.24" height="3.30" fill="#d44a6c"/><rect x="429.42" y="94.00" width="12.24" height="2.30" fill="#c47c8a"/><rect x="429.42" y="96.00" width="12.24" height="7.30" fill="#d44a6c"/><rect x="429.42" y="103.00" width="12.24" height="1.80" fill="#c47c8a"/><rect x="429.42" y="104.50" width="12.24" height="1.30" fill="#d44a6c"/><rect x="429.42" y="105.50" width="12.24" height="1.30" fill="#e8285a"/><rect x="429.42" y="106.50" width="12.24" height="1.30" fill="#c47c8a"/><rect x="429.42" y="107.50" width="12.24" height="2.30" fill="#e8285a"/><rect x="429.42" y="109.50" width="12.24" height="1.30" fill="#c47c8a"/><rect x="429.42" y="110.50" width="12.24" height="5.80" fill="#d44a6c"/><rect x="429.42" y="116.00" width="12.24" height="1.30" fill="#e8285a"/><rect x="429.42" y="117.00" width="12.24" height="2.30" fill="#d44a6c"/><rect x="429.42" y="119.00" width="12.24" height="3.30" fill="#c47c8a"/><rect x="429.42" y="122.00" width="12.24" height="2.30" fill="#d44a6c"/><rect x="429.42" y="124.00" width="12.24" height="4.30" fill="#c47c8a"/><rect x="429.42" y="128.00" width="12.24" height="1.30" fill="#d44a6c"/><rect x="429.42" y="129.00" width="12.24" height="2.30" fill="#c47c8a"/><rect x="429.42" y="131.00" width="12.24" height="2.30" fill="#d44a6c"/><rect x="429.42" y="133.00" width="12.24" height="1.30" fill="#e8285a"/><rect x="429.42" y="134.00" width="12.24" height="2.30" fill="#d44a6c"/><rect x="429.42" y="136.00" width="12.24" height="4.30" fill="#c47c8a"/><rect x="429.42" y="140.00" width="12.24" height="1.30" fill="#e8285a"/><rect x="429.42" y="141.00" width="12.24" height="10.30" fill="#c47c8a"/><rect x="429.42" y="151.00" width="12.24" height="1.30" fill="#d44a6c"/><rect x="429.42" y="152.00" width="12.24" height="8.30" fill="#fe0a3c"/><rect x="429.42" y="160.00" width="12.24" height="2.30" fill="#a8a294"/><rect x="429.42" y="162.00" width="12.24" height="1.80" fill="#c47c8a"/><rect x="429.42" y="163.50" width="12.24" height="7.80" fill="#a8a294"/><rect x="429.42" y="171.00" width="12.24" height="4.30" fill="#c47c8a"/><rect x="429.42" y="175.00" width="12.24" height="9.80" fill="#e8285a"/><rect x="429.42" y="184.50" width="12.24" height="1.80" fill="#a8a294"/><rect x="429.42" y="186.00" width="12.24" height="0.80" fill="#8cb484"/><rect x="429.42" y="186.50" width="12.24" height="2.30" fill="#4cd872"/><rect x="429.42" y="188.50" width="12.24" height="4.80" fill="#8cb484"/><rect x="429.42" y="193.00" width="12.24" height="3.80" fill="#4cd872"/><rect x="429.42" y="196.50" width="12.24" height="2.30" fill="#8cb484"/><rect x="429.42" y="198.50" width="12.24" height="1.30" fill="#4cd872"/><rect x="429.42" y="199.50" width="12.24" height="1.80" fill="#8cb484"/><rect x="429.42" y="201.00" width="12.24" height="1.30" fill="#4cd872"/><rect x="429.42" y="202.00" width="12.24" height="5.30" fill="#8cb484"/><rect x="429.42" y="207.00" width="12.24" height="4.30" fill="#c47c8a"/><rect x="429.42" y="211.00" width="12.24" height="32.30" fill="#06f43a"/><rect x="429.42" y="243.00" width="12.24" height="4.30" fill="#22e652"/><rect x="429.42" y="247.00" width="12.24" height="1.30" fill="#06f43a"/><rect x="429.42" y="248.00" width="12.24" height="1.30" fill="#22e652"/><rect x="429.42" y="249.00" width="12.24" height="1.30" fill="#06f43a"/><rect x="429.42" y="250.00" width="12.24" height="1.30" fill="#22e652"/><rect x="429.42" y="251.00" width="12.24" height="2.30" fill="#06f43a"/><rect x="429.42" y="253.00" width="12.24" height="1.30" fill="#22e652"/><rect x="429.42" y="254.00" width="12.24" height="1.30" fill="#06f43a"/><rect x="429.42" y="255.00" width="12.24" height="1.80" fill="#22e652"/><rect x="429.42" y="256.50" width="12.24" height="3.30" fill="#06f43a"/><rect x="429.42" y="259.50" width="12.24" height="1.30" fill="#22e652"/><rect x="429.42" y="260.50" width="12.24" height="2.30" fill="#06f43a"/><rect x="429.42" y="262.50" width="12.24" height="5.80" fill="#22e652"/><rect x="429.42" y="268.00" width="12.24" height="6.30" fill="#06f43a"/><rect x="429.42" y="274.00" width="12.24" height="5.30" fill="#22e652"/><rect x="429.42" y="279.00" width="12.24" height="1.30" fill="#06f43a"/><rect x="429.42" y="280.00" width="12.24" height="0.80" fill="#22e652"/><rect x="429.42" y="280.50" width="12.24" height="3.80" fill="#4cd872"/><rect x="429.42" y="284.00" width="12.24" height="4.80" fill="#06f43a"/><rect x="429.42" y="288.50" width="12.24" height="1.30" fill="#22e652"/><rect x="429.42" y="289.50" width="12.24" height="1.80" fill="#06f43a"/><rect x="429.42" y="291.00" width="12.24" height="7.30" fill="#4cd872"/><rect x="429.42" y="298.00" width="12.24" height="1.30" fill="#22e652"/><rect x="429.42" y="299.00" width="12.24" height="2.30" fill="#4cd872"/><rect x="429.42" y="301.00" width="12.24" height="2.30" fill="#06f43a"/><rect x="429.42" y="303.00" width="12.24" height="3.30" fill="#4cd872"/><rect x="429.42" y="306.00" width="12.24" height="2.30" fill="#22e652"/><rect x="429.42" y="308.00" width="12.24" height="1.30" fill="#4cd872"/><rect x="429.42" y="309.00" width="12.24" height="3.30" fill="#22e652"/><rect x="429.42" y="312.00" width="12.24" height="5.30" fill="#4cd872"/><rect x="429.42" y="317.00" width="12.24" height="1.30" fill="#22e652"/><rect x="429.42" y="318.00" width="12.24" height="2.30" fill="#4cd872"/><rect x="429.42" y="320.00" width="12.24" height="2.80" fill="#22e652"/><rect x="429.42" y="322.50" width="12.24" height="1.30" fill="#4cd872"/><rect x="429.42" y="323.50" width="12.24" height="3.30" fill="#22e652"/><rect x="429.42" y="326.50" width="12.24" height="1.30" fill="#06f43a"/><rect x="429.42" y="327.50" width="12.24" height="1.80" fill="#4cd872"/><rect x="429.42" y="329.00" width="12.24" height="3.80" fill="#22e652"/><rect x="429.42" y="332.50" width="12.24" height="1.80" fill="#06f43a"/><rect x="429.42" y="334.00" width="12.24" height="4.30" fill="#4cd872"/><rect x="429.42" y="338.00" width="12.24" height="2.30" fill="#06f43a"/><rect x="429.42" y="340.00" width="12.24" height="2.30" fill="#22e652"/><rect x="429.42" y="342.00" width="12.24" height="1.30" fill="#06f43a"/><rect x="429.42" y="343.00" width="12.24" height="1.80" fill="#22e652"/><rect x="429.42" y="344.50" width="12.24" height="4.30" fill="#06f43a"/><rect x="429.42" y="348.50" width="12.24" height="1.30" fill="#4cd872"/><rect x="429.42" y="349.50" width="12.24" height="3.80" fill="#06f43a"/><rect x="441.06" y="64.00" width="11.64" height="3.30" fill="#a8a294"/><rect x="441.06" y="67.00" width="11.64" height="0.80" fill="#d44a6c"/><rect x="441.06" y="67.50" width="11.64" height="4.30" fill="#c47c8a"/><rect x="441.06" y="71.50" width="11.64" height="1.30" fill="#d44a6c"/><rect x="441.06" y="72.50" width="11.64" height="9.30" fill="#c47c8a"/><rect x="441.06" y="81.50" width="11.64" height="5.30" fill="#d44a6c"/><rect x="441.06" y="86.50" width="11.64" height="3.30" fill="#c47c8a"/><rect x="441.06" y="89.50" width="11.64" height="1.80" fill="#e8285a"/><rect x="441.06" y="91.00" width="11.64" height="1.30" fill="#c47c8a"/><rect x="441.06" y="92.00" width="11.64" height="2.30" fill="#e8285a"/><rect x="441.06" y="94.00" width="11.64" height="1.30" fill="#d44a6c"/><rect x="441.06" y="95.00" width="11.64" height="4.30" fill="#c47c8a"/><rect x="441.06" y="99.00" width="11.64" height="4.30" fill="#d44a6c"/><rect x="441.06" y="103.00" width="11.64" height="1.80" fill="#c47c8a"/><rect x="441.06" y="104.50" width="11.64" height="1.30" fill="#d44a6c"/><rect x="441.06" y="105.50" width="11.64" height="1.30" fill="#e8285a"/><rect x="441.06" y="106.50" width="11.64" height="1.30" fill="#c47c8a"/><rect x="441.06" y="107.50" width="11.64" height="2.30" fill="#d44a6c"/><rect x="441.06" y="109.50" width="11.64" height="1.30" fill="#c47c8a"/><rect x="441.06" y="110.50" width="11.64" height="8.80" fill="#d44a6c"/><rect x="441.06" y="119.00" width="11.64" height="1.30" fill="#c47c8a"/><rect x="441.06" y="120.00" width="11.64" height="2.30" fill="#e8285a"/><rect x="441.06" y="122.00" width="11.64" height="4.30" fill="#c47c8a"/><rect x="441.06" y="126.00" width="11.64" height="8.30" fill="#d44a6c"/><rect x="441.06" y="134.00" width="11.64" height="2.30" fill="#c47c8a"/><rect x="441.06" y="136.00" width="11.64" height="1.30" fill="#d44a6c"/><rect x="441.06" y="137.00" width="11.64" height="3.30" fill="#c47c8a"/><rect x="441.06" y="140.00" width="11.64" height="1.80" fill="#d44a6c"/><rect x="441.06" y="141.50" width="11.64" height="3.80" fill="#c47c8a"/><rect x="441.06" y="145.00" width="11.64" height="1.30" fill="#a8a294"/><rect x="441.06" y="146.00" width="11.64" height="3.80" fill="#c47c8a"/><rect x="441.06" y="149.50" width="11.64" height="1.80" fill="#a8a294"/><rect x="441.06" y="151.00" width="11.64" height="1.30" fill="#c47c8a"/><rect x="441.06" y="152.00" width="11.64" height="1.30" fill="#a8a294"/><rect x="441.06" y="153.00" width="11.64" height="2.30" fill="#d44a6c"/><rect x="441.06" y="155.00" width="11.64" height="2.30" fill="#a8a294"/><rect x="441.06" y="157.00" width="11.64" height="3.30" fill="#c47c8a"/><rect x="441.06" y="160.00" width="11.64" height="2.30" fill="#d44a6c"/><rect x="441.06" y="162.00" width="11.64" height="1.80" fill="#c47c8a"/><rect x="441.06" y="163.50" width="11.64" height="2.80" fill="#a8a294"/><rect x="441.06" y="166.00" width="11.64" height="3.30" fill="#d44a6c"/><rect x="441.06" y="169.00" width="11.64" height="6.30" fill="#a8a294"/><rect x="441.06" y="175.00" width="11.64" height="0.80" fill="#d44a6c"/><rect x="441.06" y="175.50" width="11.64" height="2.30" fill="#e8285a"/><rect x="441.06" y="177.50" width="11.64" height="4.80" fill="#d44a6c"/><rect x="441.06" y="182.00" width="11.64" height="4.30" fill="#06f43a"/><rect x="441.06" y="186.00" width="11.64" height="1.80" fill="#4cd872"/><rect x="441.06" y="187.50" width="11.64" height="7.80" fill="#8cb484"/><rect x="441.06" y="195.00" width="11.64" height="1.80" fill="#4cd872"/><rect x="441.06" y="196.50" width="11.64" height="1.30" fill="#8cb484"/><rect x="441.06" y="197.50" width="11.64" height="4.80" fill="#4cd872"/><rect x="441.06" y="202.00" width="11.64" height="2.30" fill="#8cb484"/><rect x="441.06" y="204.00" width="11.64" height="2.30" fill="#4cd872"/><rect x="441.06" y="206.00" width="11.64" height="1.30" fill="#8cb484"/><rect x="441.06" y="207.00" width="11.64" height="12.30" fill="#c47c8a"/><rect x="441.06" y="219.00" width="11.64" height="1.30" fill="#22e652"/><rect x="441.06" y="220.00" width="11.64" height="1.30" fill="#4cd872"/><rect x="441.06" y="221.00" width="11.64" height="1.30" fill="#22e652"/><rect x="441.06" y="222.00" width="11.64" height="1.30" fill="#4cd872"/><rect x="441.06" y="223.00" width="11.64" height="1.30" fill="#22e652"/><rect x="441.06" y="224.00" width="11.64" height="1.30" fill="#06f43a"/><rect x="441.06" y="225.00" width="11.64" height="1.80" fill="#4cd872"/><rect x="441.06" y="226.50" width="11.64" height="1.80" fill="#06f43a"/><rect x="441.06" y="228.00" width="11.64" height="1.80" fill="#4cd872"/><rect x="441.06" y="229.50" width="11.64" height="1.30" fill="#06f43a"/><rect x="441.06" y="230.50" width="11.64" height="2.80" fill="#22e652"/><rect x="441.06" y="233.00" width="11.64" height="1.80" fill="#4cd872"/><rect x="441.06" y="234.50" width="11.64" height="4.30" fill="#06f43a"/><rect x="441.06" y="238.50" width="11.64" height="1.80" fill="#22e652"/><rect x="441.06" y="240.00" width="11.64" height="3.30" fill="#06f43a"/><rect x="441.06" y="243.00" width="11.64" height="1.80" fill="#22e652"/><rect x="441.06" y="244.50" width="11.64" height="1.30" fill="#4cd872"/><rect x="441.06" y="245.50" width="11.64" height="1.80" fill="#06f43a"/><rect x="441.06" y="247.00" width="11.64" height="1.30" fill="#22e652"/><rect x="441.06" y="248.00" width="11.64" height="2.30" fill="#06f43a"/><rect x="441.06" y="250.00" width="11.64" height="2.30" fill="#4cd872"/><rect x="441.06" y="252.00" width="11.64" height="1.30" fill="#06f43a"/><rect x="441.06" y="253.00" width="11.64" height="2.30" fill="#4cd872"/><rect x="441.06" y="255.00" width="11.64" height="1.80" fill="#06f43a"/><rect x="441.06" y="256.50" width="11.64" height="3.30" fill="#22e652"/><rect x="441.06" y="259.50" width="11.64" height="1.30" fill="#4cd872"/><rect x="441.06" y="260.50" width="11.64" height="1.30" fill="#22e652"/><rect x="441.06" y="261.50" width="11.64" height="1.30" fill="#4cd872"/><rect x="441.06" y="262.50" width="11.64" height="1.30" fill="#22e652"/><rect x="441.06" y="263.50" width="11.64" height="1.80" fill="#4cd872"/><rect x="441.06" y="265.00" width="11.64" height="2.30" fill="#06f43a"/><rect x="441.06" y="267.00" width="11.64" height="1.30" fill="#22e652"/><rect x="441.06" y="268.00" width="11.64" height="2.30" fill="#4cd872"/><rect x="441.06" y="270.00" width="11.64" height="2.30" fill="#22e652"/><rect x="441.06" y="272.00" width="11.64" height="1.30" fill="#06f43a"/><rect x="441.06" y="273.00" width="11.64" height="6.30" fill="#4cd872"/><rect x="441.06" y="279.00" width="11.64" height="1.80" fill="#22e652"/><rect x="441.06" y="280.50" width="11.64" height="6.80" fill="#4cd872"/><rect x="441.06" y="287.00" width="11.64" height="2.80" fill="#22e652"/><rect x="441.06" y="289.50" width="11.64" height="1.80" fill="#06f43a"/><rect x="441.06" y="291.00" width="11.64" height="1.80" fill="#4cd872"/><rect x="441.06" y="292.50" width="11.64" height="1.30" fill="#06f43a"/><rect x="441.06" y="293.50" width="11.64" height="3.30" fill="#4cd872"/><rect x="441.06" y="296.50" width="11.64" height="1.80" fill="#06f43a"/><rect x="441.06" y="298.00" width="11.64" height="1.30" fill="#22e652"/><rect x="441.06" y="299.00" width="11.64" height="2.30" fill="#4cd872"/><rect x="441.06" y="301.00" width="11.64" height="2.30" fill="#22e652"/><rect x="441.06" y="303.00" width="11.64" height="3.30" fill="#4cd872"/><rect x="441.06" y="306.00" width="11.64" height="2.30" fill="#22e652"/><rect x="441.06" y="308.00" width="11.64" height="1.30" fill="#4cd872"/><rect x="441.06" y="309.00" width="11.64" height="3.30" fill="#22e652"/><rect x="441.06" y="312.00" width="11.64" height="1.30" fill="#06f43a"/><rect x="441.06" y="313.00" width="11.64" height="3.30" fill="#4cd872"/><rect x="441.06" y="316.00" width="11.64" height="2.30" fill="#06f43a"/><rect x="441.06" y="318.00" width="11.64" height="2.30" fill="#4cd872"/><rect x="441.06" y="320.00" width="11.64" height="1.80" fill="#22e652"/><rect x="441.06" y="321.50" width="11.64" height="1.30" fill="#06f43a"/><rect x="441.06" y="322.50" width="11.64" height="2.30" fill="#4cd872"/><rect x="441.06" y="324.50" width="11.64" height="2.30" fill="#22e652"/><rect x="441.06" y="326.50" width="11.64" height="1.30" fill="#06f43a"/><rect x="441.06" y="327.50" width="11.64" height="1.80" fill="#4cd872"/><rect x="441.06" y="329.00" width="11.64" height="1.30" fill="#22e652"/><rect x="441.06" y="330.00" width="11.64" height="1.30" fill="#06f43a"/><rect x="441.06" y="331.00" width="11.64" height="1.80" fill="#22e652"/><rect x="441.06" y="332.50" width="11.64" height="1.80" fill="#4cd872"/><rect x="441.06" y="334.00" width="11.64" height="1.80" fill="#22e652"/><rect x="441.06" y="335.50" width="11.64" height="1.80" fill="#4cd872"/><rect x="441.06" y="337.00" width="11.64" height="2.30" fill="#22e652"/><rect x="441.06" y="339.00" width="11.64" height="1.30" fill="#06f43a"/><rect x="441.06" y="340.00" width="11.64" height="1.30" fill="#4cd872"/><rect x="441.06" y="341.00" width="11.64" height="1.30" fill="#22e652"/><rect x="441.06" y="342.00" width="11.64" height="1.30" fill="#06f43a"/><rect x="441.06" y="343.00" width="11.64" height="1.80" fill="#4cd872"/><rect x="441.06" y="344.50" width="11.64" height="1.30" fill="#06f43a"/><rect x="441.06" y="345.50" width="11.64" height="2.30" fill="#22e652"/><rect x="441.06" y="347.50" width="11.64" height="1.30" fill="#06f43a"/><rect x="441.06" y="348.50" width="11.64" height="4.30" fill="#4cd872"/><rect x="441.06" y="352.50" width="11.64" height="0.80" fill="#06f43a"/><path d="M330.46 55.00V51.50H342.10V55.00M336.28 51.50V49.40H353.75V55.00M365.39 55.00V51.30H377.03V55.00M345.01 49.40V48.10H371.21V51.30M318.82 55.00V46.10H358.11V48.10M388.67 55.00V52.80H400.31V55.00M394.49 52.80V51.50H411.95V55.00M423.60 55.00V47.50H435.24V55.00M429.42 47.50V43.40H446.88V55.00M403.22 51.50V39.40H438.15V43.40M338.47 46.10V0.80H420.69V39.40" stroke="#767676" stroke-width="1.05" fill="none"/><rect x="313.00" y="57.3" width="12.14" height="3.8" fill="#2418c8"/><rect x="324.64" y="57.3" width="35.42" height="3.8" fill="#4ae6f2"/><rect x="359.57" y="57.3" width="23.78" height="3.8" fill="#2418c8"/><rect x="382.85" y="57.3" width="35.42" height="3.8" fill="#4ae6f2"/><rect x="417.77" y="57.3" width="34.92" height="3.8" fill="#2418c8"/><rect x="313.00" y="60.8" width="70.35" height="3.4" fill="#9018b0"/><rect x="382.85" y="60.8" width="69.85" height="3.2" fill="#f4f020"/><rect x="462.7" y="68.3" width="8.6" height="8.2" fill="#7e2090" stroke="#3a0848" stroke-width="1"/><rect x="462.7" y="87.9" width="8.6" height="8.2" fill="#f2f024" stroke="#505010" stroke-width="1"/><rect x="462.7" y="109.4" width="8.6" height="8.2" fill="#a4f4f4" stroke="#206060" stroke-width="1"/><rect x="462.7" y="129.2" width="8.6" height="8.2" fill="#3030ee" stroke="#10105a" stroke-width="1"/><g font-weight="bold"><text x="-0.6" y="13.29" font-size="17.0" fill="#000" stroke="#000" stroke-width="0.35">A</text><text x="290.0" y="13.29" font-size="17.0" fill="#000" stroke="#000" stroke-width="0.35">B</text><text x="17" y="132.59" font-size="14.4" fill="#46861f" stroke="#46861f" stroke-width="0.35">PBS</text><text x="9.8" y="149.76" font-size="14.6" fill="#3c0a56" stroke="#3c0a56" stroke-width="0.35">Ruxo</text><text x="237.2" y="119.19" font-size="14.4" fill="#c0102a" stroke="#c0102a" stroke-width="0.35">LCMV</text><text x="236.9" y="208.69" font-size="14.4" fill="#1414b4" stroke="#1414b4" stroke-width="0.35">LCMV-</text><text x="236.9" y="226.09" font-size="14.4" fill="#1414b4" stroke="#1414b4" stroke-width="0.35">Ruxo</text><text x="483.3" y="74.52" font-size="12.9" fill="#000" stroke="#000" stroke-width="0.35">Naive</text><text x="483.3" y="96.52" font-size="12.9" fill="#000" stroke="#000" stroke-width="0.35">LCMV</text><text x="483.3" y="118.22" font-size="12.9" fill="#000" stroke="#000" stroke-width="0.35">PBS</text><text x="483.3" y="138.42" font-size="12.9" fill="#000" stroke="#000" stroke-width="0.35">Ruxo</text></g></g></defs><use href="#c" opacity="0.999"/><use href="#c" transform="translate(0.9,0)" opacity="0.5"/><use href="#c" transform="translate(0,0.9)" opacity="0.3333"/><use href="#c" transform="translate(0.9,0.9)" opacity="0.25"/></svg>
</body></html>
